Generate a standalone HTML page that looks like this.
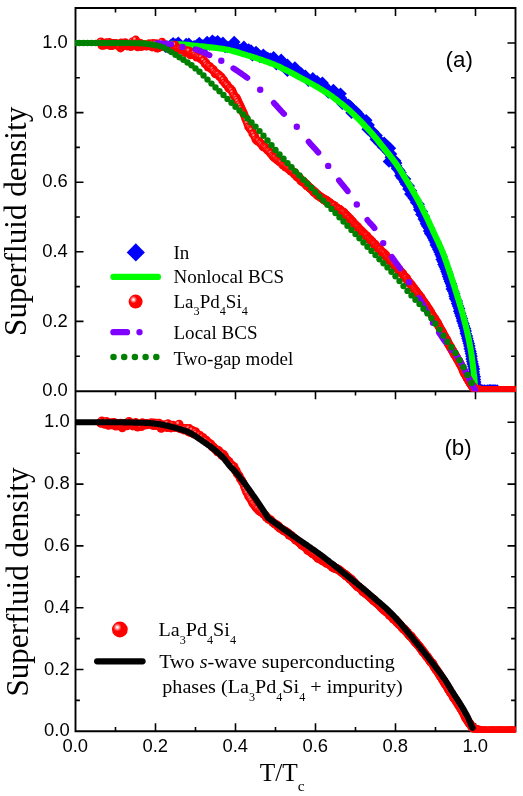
<!DOCTYPE html>
<html><head><meta charset="utf-8"><title>Superfluid density</title>
<style>html,body{margin:0;padding:0;background:#fff;}body{width:523px;height:796px;overflow:hidden;position:relative;font-family:"Liberation Sans",sans-serif;}</style></head>
<body>
<svg width="523" height="796" viewBox="0 0 523 796" style="position:absolute;left:0;top:0;display:block">
<defs>
<radialGradient id="rg" cx="0.345" cy="0.36" r="0.27">
<stop offset="0" stop-color="#ffffff"/><stop offset="0.25" stop-color="#ffd8d8"/>
<stop offset="0.7" stop-color="#ff4545"/><stop offset="1" stop-color="#ff0000"/>
</radialGradient>
<clipPath id="ca"><rect x="75.5" y="8" width="440" height="383.6"/></clipPath>
<clipPath id="cb"><rect x="75.5" y="391" width="440" height="341.2"/></clipPath>
<radialGradient id="rg2" cx="0.34" cy="0.35" r="0.23">
<stop offset="0" stop-color="#ffc4c4"/><stop offset="0.55" stop-color="#ff5a5a"/><stop offset="1" stop-color="#ff0000"/>
</radialGradient>
<circle id="rc" r="4.4" fill="url(#rg2)"/>
<circle id="rcb" r="4.4" fill="url(#rg2)"/>
<path id="bd" d="M0,-6.3 L6.3,0 L0,6.3 L-6.3,0Z" fill="#0000ff"/>
</defs>
<rect width="523" height="796" fill="#fff"/>
<g stroke="#000" stroke-width="1.9" fill="none" stroke-linecap="butt">
<path d="M75.5,7.05 V732.25 M515.5,7.05 V732.25 M74.55,8.0 H516.45 M74.55,391.2 H516.45 M74.55,731.3 H516.45"/>
</g>
<g stroke="#000" stroke-width="1.6" fill="none">
<path d="M115.5,8.0 v4.4 M115.5,391.2 v4.4 M115.5,731.3 v-4.4 M155.5,8.0 v8.0 M155.5,391.2 v8.0 M155.5,731.3 v-8.0 M195.5,8.0 v4.4 M195.5,391.2 v4.4 M195.5,731.3 v-4.4 M235.5,8.0 v8.0 M235.5,391.2 v8.0 M235.5,731.3 v-8.0 M275.5,8.0 v4.4 M275.5,391.2 v4.4 M275.5,731.3 v-4.4 M315.5,8.0 v8.0 M315.5,391.2 v8.0 M315.5,731.3 v-8.0 M355.5,8.0 v4.4 M355.5,391.2 v4.4 M355.5,731.3 v-4.4 M395.5,8.0 v8.0 M395.5,391.2 v8.0 M395.5,731.3 v-8.0 M435.5,8.0 v4.4 M435.5,391.2 v4.4 M435.5,731.3 v-4.4 M475.5,8.0 v8.0 M475.5,391.2 v8.0 M475.5,731.3 v-8.0 M75.5,356.2 h4.4 M515.5,356.2 h-4.4 M75.5,321.4 h8.0 M515.5,321.4 h-8.0 M75.5,286.6 h4.4 M515.5,286.6 h-4.4 M75.5,251.8 h8.0 M515.5,251.8 h-8.0 M75.5,217.0 h4.4 M515.5,217.0 h-4.4 M75.5,182.2 h8.0 M515.5,182.2 h-8.0 M75.5,147.4 h4.4 M515.5,147.4 h-4.4 M75.5,112.6 h8.0 M515.5,112.6 h-8.0 M75.5,77.8 h4.4 M515.5,77.8 h-4.4 M75.5,43.0 h8.0 M515.5,43.0 h-8.0 M75.5,700.4 h4.4 M515.5,700.4 h-4.4 M75.5,669.5 h8.0 M515.5,669.5 h-8.0 M75.5,638.6 h4.4 M515.5,638.6 h-4.4 M75.5,607.7 h8.0 M515.5,607.7 h-8.0 M75.5,576.8 h4.4 M515.5,576.8 h-4.4 M75.5,545.9 h8.0 M515.5,545.9 h-8.0 M75.5,515.0 h4.4 M515.5,515.0 h-4.4 M75.5,484.1 h8.0 M515.5,484.1 h-8.0 M75.5,453.2 h4.4 M515.5,453.2 h-4.4 M75.5,422.3 h8.0 M515.5,422.3 h-8.0"/>
</g>
<g clip-path="url(#ca)">
<use href="#bd" x="165.5" y="46.6"/>
<use href="#bd" x="168.2" y="47.4"/>
<use href="#bd" x="170.6" y="45.4"/>
<use href="#bd" x="173.1" y="43.3"/>
<use href="#bd" x="175.8" y="44.5"/>
<use href="#bd" x="178.3" y="42.7"/>
<use href="#bd" x="181.1" y="45.8"/>
<use href="#bd" x="183.8" y="49.4"/>
<use href="#bd" x="186.2" y="44.1"/>
<use href="#bd" x="188.8" y="43.7"/>
<use href="#bd" x="191.5" y="46.7"/>
<use href="#bd" x="194.1" y="46.3"/>
<use href="#bd" x="196.7" y="45.6"/>
<use href="#bd" x="199.3" y="43.0"/>
<use href="#bd" x="201.9" y="45.3"/>
<use href="#bd" x="204.4" y="47.2"/>
<use href="#bd" x="207.1" y="42.1"/>
<use href="#bd" x="209.7" y="44.4"/>
<use href="#bd" x="212.4" y="40.8"/>
<use href="#bd" x="215.0" y="42.5"/>
<use href="#bd" x="217.6" y="41.2"/>
<use href="#bd" x="220.1" y="45.3"/>
<use href="#bd" x="222.9" y="42.9"/>
<use href="#bd" x="225.1" y="46.9"/>
<use href="#bd" x="227.7" y="47.0"/>
<use href="#bd" x="230.4" y="46.7"/>
<use href="#bd" x="234.2" y="42.0"/>
<use href="#bd" x="235.7" y="47.0"/>
<use href="#bd" x="238.0" y="48.8"/>
<use href="#bd" x="240.4" y="49.8"/>
<use href="#bd" x="243.9" y="46.9"/>
<use href="#bd" x="245.8" y="49.9"/>
<use href="#bd" x="248.6" y="49.5"/>
<use href="#bd" x="251.0" y="50.6"/>
<use href="#bd" x="252.4" y="55.2"/>
<use href="#bd" x="256.0" y="52.0"/>
<use href="#bd" x="258.0" y="54.3"/>
<use href="#bd" x="259.9" y="57.0"/>
<use href="#bd" x="263.3" y="54.9"/>
<use href="#bd" x="265.5" y="56.7"/>
<use href="#bd" x="267.8" y="58.0"/>
<use href="#bd" x="270.2" y="58.8"/>
<use href="#bd" x="273.6" y="57.3"/>
<use href="#bd" x="275.0" y="60.8"/>
<use href="#bd" x="276.4" y="64.1"/>
<use href="#bd" x="281.2" y="59.9"/>
<use href="#bd" x="281.5" y="65.3"/>
<use href="#bd" x="284.5" y="65.1"/>
<use href="#bd" x="287.5" y="64.9"/>
<use href="#bd" x="287.4" y="70.8"/>
<use href="#bd" x="290.8" y="69.8"/>
<use href="#bd" x="294.9" y="67.6"/>
<use href="#bd" x="296.0" y="71.1"/>
<use href="#bd" x="297.8" y="73.2"/>
<use href="#bd" x="300.9" y="73.1"/>
<use href="#bd" x="302.3" y="75.8"/>
<use href="#bd" x="305.3" y="75.7"/>
<use href="#bd" x="306.9" y="78.3"/>
<use href="#bd" x="308.5" y="80.8"/>
<use href="#bd" x="312.8" y="78.4"/>
<use href="#bd" x="314.2" y="81.2"/>
<use href="#bd" x="317.1" y="81.3"/>
<use href="#bd" x="318.8" y="83.6"/>
<use href="#bd" x="322.4" y="82.8"/>
<use href="#bd" x="323.9" y="85.2"/>
<use href="#bd" x="325.7" y="87.3"/>
<use href="#bd" x="326.6" y="90.6"/>
<use href="#bd" x="328.4" y="92.5"/>
<use href="#bd" x="333.4" y="90.0"/>
<use href="#bd" x="334.9" y="92.4"/>
<use href="#bd" x="335.2" y="96.3"/>
<use href="#bd" x="340.5" y="93.7"/>
<use href="#bd" x="340.7" y="97.8"/>
<use href="#bd" x="342.2" y="100.0"/>
<use href="#bd" x="342.4" y="103.7"/>
<use href="#bd" x="345.1" y="104.5"/>
<use href="#bd" x="348.4" y="104.7"/>
<use href="#bd" x="350.4" y="106.4"/>
<use href="#bd" x="352.2" y="108.4"/>
<use href="#bd" x="351.6" y="112.7"/>
<use href="#bd" x="356.2" y="111.7"/>
<use href="#bd" x="357.8" y="113.8"/>
<use href="#bd" x="358.7" y="116.5"/>
<use href="#bd" x="361.2" y="117.8"/>
<use href="#bd" x="363.1" y="119.6"/>
<use href="#bd" x="366.2" y="120.2"/>
<use href="#bd" x="366.3" y="123.7"/>
<use href="#bd" x="368.6" y="125.1"/>
<use href="#bd" x="367.7" y="129.2"/>
<use href="#bd" x="370.2" y="130.6"/>
<use href="#bd" x="372.9" y="131.7"/>
<use href="#bd" x="373.4" y="134.6"/>
<use href="#bd" x="376.5" y="135.5"/>
<use href="#bd" x="375.8" y="139.2"/>
<use href="#bd" x="379.1" y="140.1"/>
<use href="#bd" x="379.6" y="142.9"/>
<use href="#bd" x="384.2" y="142.8"/>
<use href="#bd" x="383.0" y="146.8"/>
<use href="#bd" x="387.8" y="146.6"/>
<use href="#bd" x="389.9" y="148.3"/>
<use href="#bd" x="388.6" y="152.4"/>
<use href="#bd" x="391.0" y="154.0"/>
<use href="#bd" x="390.8" y="157.3"/>
<use href="#bd" x="389.0" y="161.5"/>
<use href="#bd" x="395.1" y="160.7"/>
<use href="#bd" x="396.1" y="163.1"/>
<use href="#bd" x="396.2" y="166.1"/>
<use href="#bd" x="397.1" y="168.6"/>
<use href="#bd" x="399.3" y="170.4"/>
<use href="#bd" x="400.5" y="172.7"/>
<use href="#bd" x="400.5" y="175.6"/>
<use href="#bd" x="401.9" y="177.8"/>
<use href="#bd" x="405.0" y="179.1"/>
<use href="#bd" x="405.0" y="182.0"/>
<use href="#bd" x="406.2" y="184.3"/>
<use href="#bd" x="408.7" y="185.9"/>
<use href="#bd" x="408.5" y="189.0"/>
<use href="#bd" x="410.9" y="190.7"/>
<use href="#bd" x="410.4" y="193.9"/>
<use href="#bd" x="412.4" y="195.8"/>
<use href="#bd" x="413.7" y="198.0"/>
<use href="#bd" x="415.4" y="200.1"/>
<use href="#bd" x="416.2" y="202.6"/>
<use href="#bd" x="418.6" y="204.3"/>
<use href="#bd" x="419.1" y="206.9"/>
<use href="#bd" x="419.3" y="209.7"/>
<use href="#bd" x="421.8" y="211.4"/>
<use href="#bd" x="421.4" y="214.5"/>
<use href="#bd" x="423.7" y="216.3"/>
<use href="#bd" x="423.8" y="219.1"/>
<use href="#bd" x="425.5" y="221.2"/>
<use href="#bd" x="426.0" y="223.8"/>
<use href="#bd" x="427.3" y="226.1"/>
<use href="#bd" x="429.0" y="228.2"/>
<use href="#bd" x="429.1" y="231.0"/>
<use href="#bd" x="430.2" y="233.4"/>
<use href="#bd" x="431.8" y="235.5"/>
<use href="#bd" x="433.0" y="237.8"/>
<use href="#bd" x="434.1" y="240.1"/>
<use href="#bd" x="435.5" y="242.4"/>
<use href="#bd" x="435.8" y="245.0"/>
<use href="#bd" x="437.4" y="247.2"/>
<use href="#bd" x="438.3" y="249.6"/>
<use href="#bd" x="439.5" y="251.9"/>
<use href="#bd" x="440.5" y="254.4"/>
<use href="#bd" x="441.6" y="256.7"/>
<use href="#bd" x="441.7" y="259.5"/>
<use href="#bd" x="443.0" y="261.8"/>
<use href="#bd" x="443.5" y="264.4"/>
<use href="#bd" x="444.6" y="266.7"/>
<use href="#bd" x="445.7" y="269.1"/>
<use href="#bd" x="446.5" y="271.6"/>
<use href="#bd" x="447.4" y="274.0"/>
<use href="#bd" x="448.1" y="276.5"/>
<use href="#bd" x="449.0" y="278.9"/>
<use href="#bd" x="449.9" y="281.4"/>
<use href="#bd" x="451.0" y="283.8"/>
<use href="#bd" x="451.7" y="286.3"/>
<use href="#bd" x="451.8" y="289.0"/>
<use href="#bd" x="453.3" y="291.2"/>
<use href="#bd" x="454.2" y="293.7"/>
<use href="#bd" x="454.6" y="296.3"/>
<use href="#bd" x="455.1" y="298.8"/>
<use href="#bd" x="456.7" y="301.1"/>
<use href="#bd" x="457.1" y="303.6"/>
<use href="#bd" x="458.0" y="306.1"/>
<use href="#bd" x="459.1" y="308.5"/>
<use href="#bd" x="459.2" y="311.2"/>
<use href="#bd" x="460.2" y="313.6"/>
<use href="#bd" x="460.9" y="316.1"/>
<use href="#bd" x="461.9" y="318.5"/>
<use href="#bd" x="462.3" y="321.1"/>
<use href="#bd" x="463.4" y="323.5"/>
<use href="#bd" x="464.0" y="326.0"/>
<use href="#bd" x="465.0" y="328.4"/>
<use href="#bd" x="465.7" y="330.9"/>
<use href="#bd" x="465.8" y="333.6"/>
<use href="#bd" x="466.9" y="336.0"/>
<use href="#bd" x="467.4" y="338.6"/>
<use href="#bd" x="468.1" y="341.1"/>
<use href="#bd" x="468.8" y="343.6"/>
<use href="#bd" x="469.4" y="346.1"/>
<use href="#bd" x="469.7" y="348.7"/>
<use href="#bd" x="470.5" y="351.2"/>
<use href="#bd" x="471.0" y="353.7"/>
<use href="#bd" x="471.5" y="356.3"/>
<use href="#bd" x="471.6" y="358.9"/>
<use href="#bd" x="472.2" y="361.4"/>
<use href="#bd" x="472.7" y="364.0"/>
<use href="#bd" x="473.4" y="366.5"/>
<use href="#bd" x="474.0" y="369.1"/>
<use href="#bd" x="473.8" y="371.7"/>
<use href="#bd" x="474.1" y="374.3"/>
<use href="#bd" x="474.8" y="376.8"/>
<use href="#bd" x="474.9" y="379.4"/>
<use href="#bd" x="475.2" y="382.0"/>
<use href="#bd" x="475.5" y="384.6"/>
<use href="#bd" x="475.8" y="387.2"/>
<use href="#bd" x="476.5" y="389.7"/>
<use href="#bd" x="478.0" y="390.7"/>
<use href="#bd" x="479.6" y="390.4"/>
<use href="#bd" x="481.2" y="390.6"/>
<use href="#bd" x="482.8" y="390.5"/>
<use href="#bd" x="484.4" y="390.6"/>
<use href="#bd" x="486.0" y="390.7"/>
<use href="#bd" x="487.6" y="390.6"/>
<use href="#bd" x="489.2" y="390.4"/>
<use href="#bd" x="490.8" y="390.3"/>
<use href="#bd" x="492.4" y="390.6"/>
<use href="#bd" x="494.0" y="390.4"/>
<use href="#bd" x="495.6" y="390.5"/>
<use href="#bd" x="497.2" y="390.6"/>
<path d="M75.5,43.0 L77.3,43.0 L79.1,43.0 L80.9,43.0 L82.7,43.0 L84.5,43.0 L86.4,43.0 L88.2,43.0 L90.0,43.0 L91.8,43.0 L93.6,43.0 L95.4,43.0 L97.2,43.0 L99.0,43.0 L100.8,43.0 L102.6,43.0 L104.4,43.0 L106.3,43.0 L108.1,43.0 L109.9,43.0 L111.7,43.0 L113.5,43.0 L115.3,43.0 L117.1,43.0 L118.9,43.0 L120.7,43.0 L122.5,43.0 L124.3,43.0 L126.2,43.0 L128.0,43.0 L129.8,43.0 L131.6,43.0 L133.4,43.0 L135.2,43.0 L137.0,43.0 L138.8,43.0 L140.6,43.0 L142.4,43.0 L144.2,43.1 L146.1,43.1 L147.9,43.1 L149.7,43.2 L151.5,43.2 L153.3,43.3 L155.1,43.3 L156.9,43.4 L158.7,43.4 L160.5,43.5 L162.3,43.5 L164.1,43.6 L166.0,43.7 L167.8,43.7 L169.6,43.8 L171.4,43.9 L173.2,43.9 L175.0,44.0 L176.8,44.1 L178.6,44.2 L180.4,44.3 L182.2,44.5 L184.0,44.6 L185.9,44.8 L187.7,44.9 L189.5,45.1 L191.3,45.3 L193.1,45.5 L194.9,45.7 L196.7,45.9 L198.5,46.1 L200.3,46.2 L202.1,46.4 L203.9,46.6 L205.8,46.8 L207.6,47.0 L209.4,47.2 L211.2,47.4 L213.0,47.6 L214.8,47.8 L216.6,48.0 L218.4,48.3 L220.2,48.5 L222.0,48.8 L223.8,49.1 L225.7,49.4 L227.5,49.7 L229.3,50.1 L231.1,50.6 L232.9,51.0 L234.7,51.5 L236.5,52.0 L238.3,52.5 L240.1,53.1 L241.9,53.7 L243.7,54.2 L245.6,54.8 L247.4,55.4 L249.2,55.9 L251.0,56.5 L252.8,57.0 L254.6,57.6 L256.4,58.2 L258.2,58.8 L260.0,59.4 L261.8,60.0 L263.6,60.6 L265.4,61.3 L267.3,61.9 L269.1,62.6 L270.9,63.3 L272.7,64.0 L274.5,64.7 L276.3,65.5 L278.1,66.3 L279.9,67.1 L281.7,68.0 L283.5,68.9 L285.3,69.8 L287.2,70.7 L289.0,71.6 L290.8,72.6 L292.6,73.5 L294.4,74.5 L296.2,75.5 L298.0,76.5 L299.8,77.4 L301.6,78.4 L303.4,79.3 L305.2,80.3 L307.1,81.3 L308.9,82.3 L310.7,83.3 L312.5,84.3 L314.3,85.3 L316.1,86.3 L317.9,87.4 L319.7,88.5 L321.5,89.6 L323.3,90.7 L325.1,91.9 L327.0,93.0 L328.8,94.3 L330.6,95.5 L332.4,96.8 L334.2,98.1 L336.0,99.5 L337.8,100.9 L339.6,102.3 L341.4,103.7 L343.2,105.2 L345.0,106.7 L346.9,108.2 L348.7,109.8 L350.5,111.4 L352.3,113.1 L354.1,114.8 L355.9,116.6 L357.7,118.4 L359.5,120.2 L361.3,122.0 L363.1,123.9 L364.9,125.9 L366.8,127.8 L368.6,129.8 L370.4,131.8 L372.2,133.8 L374.0,135.9 L375.8,138.0 L377.6,140.2 L379.4,142.5 L381.2,144.8 L383.0,147.0 L384.8,149.3 L386.7,151.6 L388.5,153.8 L390.3,156.1 L392.1,158.4 L393.9,160.8 L395.7,163.2 L397.5,165.8 L399.3,168.6 L401.1,171.4 L402.9,174.4 L404.7,177.4 L406.6,180.4 L408.4,183.4 L410.2,186.4 L412.0,189.5 L413.8,192.6 L415.6,195.8 L417.4,199.0 L419.2,202.4 L421.0,205.9 L422.8,209.5 L424.6,213.2 L426.5,216.9 L428.3,220.8 L430.1,224.6 L431.9,228.5 L433.7,232.4 L435.5,236.2 L435.8,236.9 L436.2,237.6 L436.5,238.3 L436.8,239.0 L437.2,239.7 L437.5,240.5 L437.9,241.2 L438.2,241.9 L438.5,242.6 L438.9,243.4 L439.2,244.1 L439.5,244.9 L439.9,245.6 L440.2,246.4 L440.5,247.2 L440.9,247.9 L441.2,248.7 L441.6,249.5 L441.9,250.3 L442.2,251.1 L442.6,251.9 L442.9,252.8 L443.2,253.6 L443.6,254.5 L443.9,255.3 L444.2,256.2 L444.6,257.1 L444.9,258.1 L445.2,259.0 L445.6,259.9 L445.9,260.9 L446.3,261.8 L446.6,262.8 L446.9,263.8 L447.3,264.8 L447.6,265.8 L447.9,266.8 L448.3,267.8 L448.6,268.8 L448.9,269.8 L449.3,270.8 L449.6,271.9 L450.0,272.9 L450.3,273.9 L450.6,275.0 L451.0,276.0 L451.3,277.0 L451.6,278.0 L452.0,279.1 L452.3,280.1 L452.6,281.1 L453.0,282.2 L453.3,283.2 L453.7,284.3 L454.0,285.3 L454.3,286.4 L454.7,287.4 L455.0,288.5 L455.3,289.6 L455.7,290.7 L456.0,291.8 L456.3,292.9 L456.7,294.0 L457.0,295.1 L457.3,296.2 L457.7,297.3 L458.0,298.4 L458.4,299.5 L458.7,300.6 L459.0,301.7 L459.4,302.9 L459.7,304.0 L460.0,305.1 L460.4,306.2 L460.7,307.3 L461.0,308.5 L461.4,309.6 L461.7,310.8 L462.1,311.9 L462.4,313.1 L462.7,314.3 L463.1,315.5 L463.4,316.8 L463.7,318.0 L464.1,319.3 L464.4,320.6 L464.7,321.9 L465.1,323.3 L465.4,324.6 L465.8,326.0 L466.1,327.4 L466.4,328.8 L466.8,330.2 L467.1,331.6 L467.4,333.1 L467.8,334.6 L468.1,336.1 L468.4,337.7 L468.8,339.3 L469.1,341.0 L469.4,342.7 L469.8,344.5 L470.1,346.3 L470.5,348.2 L470.8,350.2 L471.1,352.2 L471.5,354.5 L471.8,356.8 L472.1,359.3 L472.5,362.0 L472.8,364.7 L473.1,367.5 L473.5,370.4 L473.8,373.4 L474.2,376.6 L474.5,380.0 L474.8,383.5 L475.2,387.2 L475.5,391.0" fill="none" stroke="#00ff00" stroke-width="6.1" stroke-linecap="round" stroke-linejoin="round"/>
<use href="#rc" x="100.1" y="42.5"/>
<use href="#rc" x="101.0" y="41.8"/>
<use href="#rc" x="101.9" y="45.4"/>
<use href="#rc" x="102.8" y="45.1"/>
<use href="#rc" x="103.8" y="44.6"/>
<use href="#rc" x="104.7" y="45.1"/>
<use href="#rc" x="105.6" y="43.7"/>
<use href="#rc" x="106.5" y="42.7"/>
<use href="#rc" x="107.4" y="44.7"/>
<use href="#rc" x="108.4" y="43.5"/>
<use href="#rc" x="109.3" y="42.5"/>
<use href="#rc" x="110.2" y="45.7"/>
<use href="#rc" x="111.1" y="44.9"/>
<use href="#rc" x="112.1" y="45.6"/>
<use href="#rc" x="113.0" y="43.5"/>
<use href="#rc" x="113.9" y="44.0"/>
<use href="#rc" x="114.9" y="43.4"/>
<use href="#rc" x="115.8" y="43.6"/>
<use href="#rc" x="116.7" y="45.2"/>
<use href="#rc" x="117.7" y="43.8"/>
<use href="#rc" x="118.6" y="45.5"/>
<use href="#rc" x="119.5" y="45.4"/>
<use href="#rc" x="120.5" y="48.0"/>
<use href="#rc" x="121.4" y="42.8"/>
<use href="#rc" x="122.3" y="46.3"/>
<use href="#rc" x="123.3" y="44.8"/>
<use href="#rc" x="124.2" y="44.9"/>
<use href="#rc" x="125.2" y="42.7"/>
<use href="#rc" x="126.1" y="44.2"/>
<use href="#rc" x="127.1" y="46.0"/>
<use href="#rc" x="128.0" y="44.8"/>
<use href="#rc" x="129.0" y="45.0"/>
<use href="#rc" x="129.9" y="44.5"/>
<use href="#rc" x="130.9" y="46.6"/>
<use href="#rc" x="131.8" y="44.9"/>
<use href="#rc" x="132.8" y="41.6"/>
<use href="#rc" x="133.7" y="43.9"/>
<use href="#rc" x="134.7" y="42.0"/>
<use href="#rc" x="135.7" y="40.0"/>
<use href="#rc" x="136.6" y="44.1"/>
<use href="#rc" x="137.6" y="46.9"/>
<use href="#rc" x="138.5" y="45.0"/>
<use href="#rc" x="139.5" y="43.2"/>
<use href="#rc" x="140.5" y="43.5"/>
<use href="#rc" x="141.4" y="46.6"/>
<use href="#rc" x="142.4" y="45.2"/>
<use href="#rc" x="143.4" y="45.0"/>
<use href="#rc" x="144.3" y="44.9"/>
<use href="#rc" x="145.3" y="45.1"/>
<use href="#rc" x="146.3" y="46.2"/>
<use href="#rc" x="147.3" y="45.9"/>
<use href="#rc" x="148.2" y="45.4"/>
<use href="#rc" x="149.2" y="43.6"/>
<use href="#rc" x="150.2" y="46.0"/>
<use href="#rc" x="151.2" y="44.3"/>
<use href="#rc" x="152.2" y="47.0"/>
<use href="#rc" x="153.1" y="43.5"/>
<use href="#rc" x="154.1" y="45.3"/>
<use href="#rc" x="155.1" y="45.5"/>
<use href="#rc" x="156.1" y="43.6"/>
<use href="#rc" x="157.1" y="48.2"/>
<use href="#rc" x="158.1" y="47.9"/>
<use href="#rc" x="159.1" y="45.1"/>
<use href="#rc" x="160.0" y="47.0"/>
<use href="#rc" x="161.0" y="46.5"/>
<use href="#rc" x="162.0" y="42.2"/>
<use href="#rc" x="163.0" y="46.5"/>
<use href="#rc" x="164.0" y="46.1"/>
<use href="#rc" x="165.0" y="46.4"/>
<use href="#rc" x="166.0" y="44.8"/>
<use href="#rc" x="167.0" y="46.1"/>
<use href="#rc" x="168.0" y="46.4"/>
<use href="#rc" x="169.0" y="48.5"/>
<use href="#rc" x="170.0" y="47.4"/>
<use href="#rc" x="171.0" y="47.1"/>
<use href="#rc" x="172.0" y="49.5"/>
<use href="#rc" x="173.1" y="46.6"/>
<use href="#rc" x="174.1" y="47.0"/>
<use href="#rc" x="175.1" y="45.1"/>
<use href="#rc" x="176.1" y="50.2"/>
<use href="#rc" x="177.1" y="49.5"/>
<use href="#rc" x="178.1" y="49.7"/>
<use href="#rc" x="179.1" y="49.5"/>
<use href="#rc" x="180.2" y="48.9"/>
<use href="#rc" x="181.2" y="49.4"/>
<use href="#rc" x="182.2" y="49.0"/>
<use href="#rc" x="183.2" y="49.4"/>
<use href="#rc" x="184.2" y="50.1"/>
<use href="#rc" x="185.3" y="52.6"/>
<use href="#rc" x="186.3" y="51.7"/>
<use href="#rc" x="187.3" y="51.2"/>
<use href="#rc" x="188.4" y="50.9"/>
<use href="#rc" x="189.4" y="51.3"/>
<use href="#rc" x="190.4" y="54.9"/>
<use href="#rc" x="191.4" y="53.9"/>
<use href="#rc" x="192.5" y="53.9"/>
<use href="#rc" x="193.5" y="53.9"/>
<use href="#rc" x="194.6" y="53.5"/>
<use href="#rc" x="195.6" y="55.4"/>
<use href="#rc" x="196.6" y="57.1"/>
<use href="#rc" x="197.7" y="56.2"/>
<use href="#rc" x="198.7" y="57.1"/>
<use href="#rc" x="199.8" y="57.8"/>
<use href="#rc" x="200.8" y="59.0"/>
<use href="#rc" x="201.8" y="58.0"/>
<use href="#rc" x="202.9" y="60.4"/>
<use href="#rc" x="203.9" y="60.7"/>
<use href="#rc" x="205.0" y="63.6"/>
<use href="#rc" x="206.0" y="62.9"/>
<use href="#rc" x="207.0" y="65.2"/>
<use href="#rc" x="208.1" y="67.1"/>
<use href="#rc" x="209.1" y="66.3"/>
<use href="#rc" x="210.2" y="67.0"/>
<use href="#rc" x="211.2" y="68.7"/>
<use href="#rc" x="212.2" y="69.5"/>
<use href="#rc" x="213.3" y="69.6"/>
<use href="#rc" x="214.3" y="71.8"/>
<use href="#rc" x="215.4" y="73.9"/>
<use href="#rc" x="216.4" y="73.1"/>
<use href="#rc" x="217.4" y="74.2"/>
<use href="#rc" x="218.5" y="74.6"/>
<use href="#rc" x="219.5" y="76.6"/>
<use href="#rc" x="220.6" y="76.5"/>
<use href="#rc" x="221.6" y="77.7"/>
<use href="#rc" x="222.6" y="80.5"/>
<use href="#rc" x="223.7" y="80.2"/>
<use href="#rc" x="224.7" y="82.7"/>
<use href="#rc" x="225.8" y="84.2"/>
<use href="#rc" x="226.8" y="84.6"/>
<use href="#rc" x="227.8" y="86.1"/>
<use href="#rc" x="228.9" y="88.4"/>
<use href="#rc" x="229.9" y="88.4"/>
<use href="#rc" x="231.0" y="89.6"/>
<use href="#rc" x="232.0" y="90.6"/>
<use href="#rc" x="233.0" y="93.0"/>
<use href="#rc" x="234.1" y="95.6"/>
<use href="#rc" x="235.1" y="97.0"/>
<use href="#rc" x="236.2" y="97.7"/>
<use href="#rc" x="237.2" y="99.6"/>
<use href="#rc" x="238.2" y="101.9"/>
<use href="#rc" x="239.3" y="104.4"/>
<use href="#rc" x="240.3" y="106.3"/>
<use href="#rc" x="241.4" y="108.7"/>
<use href="#rc" x="242.4" y="110.9"/>
<use href="#rc" x="243.4" y="112.9"/>
<use href="#rc" x="244.5" y="115.5"/>
<use href="#rc" x="245.5" y="118.3"/>
<use href="#rc" x="246.6" y="120.7"/>
<use href="#rc" x="247.6" y="123.5"/>
<use href="#rc" x="248.6" y="126.7"/>
<use href="#rc" x="249.7" y="127.9"/>
<use href="#rc" x="250.7" y="129.5"/>
<use href="#rc" x="251.8" y="130.4"/>
<use href="#rc" x="252.8" y="133.7"/>
<use href="#rc" x="253.8" y="134.4"/>
<use href="#rc" x="254.9" y="136.6"/>
<use href="#rc" x="255.9" y="139.5"/>
<use href="#rc" x="257.0" y="140.7"/>
<use href="#rc" x="258.0" y="141.2"/>
<use href="#rc" x="259.0" y="141.3"/>
<use href="#rc" x="260.1" y="143.0"/>
<use href="#rc" x="261.1" y="143.6"/>
<use href="#rc" x="262.2" y="145.2"/>
<use href="#rc" x="263.2" y="147.0"/>
<use href="#rc" x="264.2" y="146.9"/>
<use href="#rc" x="265.3" y="147.4"/>
<use href="#rc" x="266.3" y="148.3"/>
<use href="#rc" x="267.4" y="149.9"/>
<use href="#rc" x="268.4" y="150.9"/>
<use href="#rc" x="269.4" y="151.5"/>
<use href="#rc" x="270.5" y="153.2"/>
<use href="#rc" x="271.5" y="153.6"/>
<use href="#rc" x="272.6" y="155.8"/>
<use href="#rc" x="273.6" y="156.8"/>
<use href="#rc" x="274.6" y="157.8"/>
<use href="#rc" x="275.7" y="158.0"/>
<use href="#rc" x="276.7" y="159.5"/>
<use href="#rc" x="277.7" y="160.2"/>
<use href="#rc" x="278.7" y="161.0"/>
<use href="#rc" x="279.7" y="161.9"/>
<use href="#rc" x="280.7" y="162.2"/>
<use href="#rc" x="281.7" y="163.0"/>
<use href="#rc" x="282.7" y="164.8"/>
<use href="#rc" x="283.6" y="165.1"/>
<use href="#rc" x="284.5" y="166.0"/>
<use href="#rc" x="285.5" y="167.1"/>
<use href="#rc" x="286.4" y="166.4"/>
<use href="#rc" x="287.3" y="167.6"/>
<use href="#rc" x="288.2" y="168.7"/>
<use href="#rc" x="289.0" y="169.5"/>
<use href="#rc" x="289.9" y="169.8"/>
<use href="#rc" x="290.8" y="171.2"/>
<use href="#rc" x="291.6" y="171.4"/>
<use href="#rc" x="292.4" y="171.4"/>
<use href="#rc" x="293.2" y="172.3"/>
<use href="#rc" x="294.1" y="173.8"/>
<use href="#rc" x="294.9" y="174.4"/>
<use href="#rc" x="295.6" y="173.9"/>
<use href="#rc" x="296.4" y="176.2"/>
<use href="#rc" x="297.2" y="176.6"/>
<use href="#rc" x="297.9" y="177.6"/>
<use href="#rc" x="298.7" y="177.5"/>
<use href="#rc" x="299.4" y="178.2"/>
<use href="#rc" x="300.2" y="178.5"/>
<use href="#rc" x="300.9" y="180.9"/>
<use href="#rc" x="301.6" y="180.3"/>
<use href="#rc" x="302.3" y="181.8"/>
<use href="#rc" x="303.0" y="181.4"/>
<use href="#rc" x="303.7" y="182.4"/>
<use href="#rc" x="304.3" y="182.1"/>
<use href="#rc" x="305.0" y="183.3"/>
<use href="#rc" x="305.7" y="184.6"/>
<use href="#rc" x="306.3" y="184.1"/>
<use href="#rc" x="306.9" y="185.8"/>
<use href="#rc" x="307.6" y="186.1"/>
<use href="#rc" x="308.2" y="186.0"/>
<use href="#rc" x="308.8" y="186.9"/>
<use href="#rc" x="309.4" y="187.4"/>
<use href="#rc" x="310.0" y="188.2"/>
<use href="#rc" x="310.6" y="188.5"/>
<use href="#rc" x="311.2" y="188.9"/>
<use href="#rc" x="311.8" y="189.7"/>
<use href="#rc" x="312.3" y="189.9"/>
<use href="#rc" x="312.9" y="190.3"/>
<use href="#rc" x="313.5" y="191.4"/>
<use href="#rc" x="314.0" y="192.3"/>
<use href="#rc" x="314.5" y="191.6"/>
<use href="#rc" x="315.1" y="192.8"/>
<use href="#rc" x="315.6" y="193.0"/>
<use href="#rc" x="316.1" y="193.2"/>
<use href="#rc" x="316.6" y="194.5"/>
<use href="#rc" x="317.2" y="194.3"/>
<use href="#rc" x="317.7" y="195.6"/>
<use href="#rc" x="318.2" y="195.0"/>
<use href="#rc" x="318.7" y="195.9"/>
<use href="#rc" x="319.2" y="196.0"/>
<use href="#rc" x="319.8" y="196.2"/>
<use href="#rc" x="320.3" y="197.2"/>
<use href="#rc" x="320.8" y="197.2"/>
<use href="#rc" x="321.3" y="197.9"/>
<use href="#rc" x="321.8" y="198.0"/>
<use href="#rc" x="322.4" y="197.8"/>
<use href="#rc" x="322.9" y="198.7"/>
<use href="#rc" x="323.4" y="199.1"/>
<use href="#rc" x="323.9" y="199.8"/>
<use href="#rc" x="324.4" y="199.3"/>
<use href="#rc" x="325.0" y="200.1"/>
<use href="#rc" x="325.5" y="199.7"/>
<use href="#rc" x="326.0" y="201.1"/>
<use href="#rc" x="326.5" y="200.7"/>
<use href="#rc" x="327.0" y="200.7"/>
<use href="#rc" x="327.6" y="201.8"/>
<use href="#rc" x="328.1" y="202.7"/>
<use href="#rc" x="328.6" y="201.9"/>
<use href="#rc" x="329.1" y="202.4"/>
<use href="#rc" x="329.6" y="202.9"/>
<use href="#rc" x="330.2" y="203.1"/>
<use href="#rc" x="330.7" y="204.2"/>
<use href="#rc" x="331.2" y="204.0"/>
<use href="#rc" x="331.7" y="204.4"/>
<use href="#rc" x="332.2" y="205.3"/>
<use href="#rc" x="332.8" y="205.0"/>
<use href="#rc" x="333.3" y="205.9"/>
<use href="#rc" x="333.8" y="205.6"/>
<use href="#rc" x="334.3" y="205.8"/>
<use href="#rc" x="334.8" y="205.9"/>
<use href="#rc" x="335.4" y="207.9"/>
<use href="#rc" x="335.9" y="207.3"/>
<use href="#rc" x="336.4" y="207.9"/>
<use href="#rc" x="336.9" y="208.1"/>
<use href="#rc" x="337.4" y="208.5"/>
<use href="#rc" x="338.0" y="208.8"/>
<use href="#rc" x="338.5" y="210.0"/>
<use href="#rc" x="339.0" y="209.1"/>
<use href="#rc" x="339.5" y="209.2"/>
<use href="#rc" x="340.0" y="209.9"/>
<use href="#rc" x="340.6" y="210.1"/>
<use href="#rc" x="341.1" y="211.4"/>
<use href="#rc" x="341.6" y="211.9"/>
<use href="#rc" x="342.1" y="211.5"/>
<use href="#rc" x="342.6" y="211.8"/>
<use href="#rc" x="343.2" y="212.7"/>
<use href="#rc" x="343.7" y="213.9"/>
<use href="#rc" x="344.2" y="212.5"/>
<use href="#rc" x="344.7" y="214.4"/>
<use href="#rc" x="345.2" y="214.2"/>
<use href="#rc" x="345.8" y="215.6"/>
<use href="#rc" x="346.3" y="215.2"/>
<use href="#rc" x="346.8" y="216.0"/>
<use href="#rc" x="347.3" y="216.0"/>
<use href="#rc" x="347.8" y="216.7"/>
<use href="#rc" x="348.4" y="218.3"/>
<use href="#rc" x="348.9" y="218.6"/>
<use href="#rc" x="349.4" y="218.5"/>
<use href="#rc" x="349.9" y="218.9"/>
<use href="#rc" x="350.4" y="219.0"/>
<use href="#rc" x="351.0" y="220.2"/>
<use href="#rc" x="351.5" y="220.9"/>
<use href="#rc" x="352.0" y="221.4"/>
<use href="#rc" x="352.5" y="221.9"/>
<use href="#rc" x="353.0" y="222.0"/>
<use href="#rc" x="353.6" y="223.0"/>
<use href="#rc" x="354.1" y="223.6"/>
<use href="#rc" x="354.6" y="224.7"/>
<use href="#rc" x="355.1" y="225.5"/>
<use href="#rc" x="355.6" y="225.2"/>
<use href="#rc" x="356.2" y="225.5"/>
<use href="#rc" x="356.7" y="226.4"/>
<use href="#rc" x="357.2" y="226.7"/>
<use href="#rc" x="357.7" y="227.2"/>
<use href="#rc" x="358.2" y="228.0"/>
<use href="#rc" x="358.8" y="228.1"/>
<use href="#rc" x="359.3" y="229.4"/>
<use href="#rc" x="359.8" y="229.6"/>
<use href="#rc" x="360.3" y="230.3"/>
<use href="#rc" x="360.8" y="230.7"/>
<use href="#rc" x="361.4" y="231.0"/>
<use href="#rc" x="361.9" y="231.4"/>
<use href="#rc" x="362.4" y="232.3"/>
<use href="#rc" x="362.9" y="232.6"/>
<use href="#rc" x="363.4" y="233.5"/>
<use href="#rc" x="364.0" y="233.9"/>
<use href="#rc" x="364.5" y="233.9"/>
<use href="#rc" x="365.0" y="235.0"/>
<use href="#rc" x="365.5" y="234.9"/>
<use href="#rc" x="366.0" y="235.7"/>
<use href="#rc" x="366.6" y="236.4"/>
<use href="#rc" x="367.1" y="236.1"/>
<use href="#rc" x="367.6" y="237.6"/>
<use href="#rc" x="368.1" y="238.1"/>
<use href="#rc" x="368.6" y="238.5"/>
<use href="#rc" x="369.2" y="238.9"/>
<use href="#rc" x="369.7" y="239.4"/>
<use href="#rc" x="370.2" y="239.7"/>
<use href="#rc" x="370.7" y="240.5"/>
<use href="#rc" x="371.2" y="240.9"/>
<use href="#rc" x="371.8" y="241.7"/>
<use href="#rc" x="372.3" y="241.7"/>
<use href="#rc" x="372.8" y="242.8"/>
<use href="#rc" x="373.3" y="243.3"/>
<use href="#rc" x="373.8" y="243.7"/>
<use href="#rc" x="374.4" y="244.1"/>
<use href="#rc" x="374.9" y="245.0"/>
<use href="#rc" x="375.4" y="244.6"/>
<use href="#rc" x="375.9" y="246.0"/>
<use href="#rc" x="376.4" y="246.4"/>
<use href="#rc" x="377.0" y="247.0"/>
<use href="#rc" x="377.5" y="247.5"/>
<use href="#rc" x="378.0" y="247.6"/>
<use href="#rc" x="378.5" y="248.3"/>
<use href="#rc" x="379.0" y="249.2"/>
<use href="#rc" x="379.6" y="249.7"/>
<use href="#rc" x="380.1" y="250.1"/>
<use href="#rc" x="380.6" y="249.9"/>
<use href="#rc" x="381.1" y="251.3"/>
<use href="#rc" x="381.6" y="252.1"/>
<use href="#rc" x="382.2" y="252.6"/>
<use href="#rc" x="382.7" y="252.8"/>
<use href="#rc" x="383.2" y="252.6"/>
<use href="#rc" x="383.7" y="254.2"/>
<use href="#rc" x="384.2" y="254.3"/>
<use href="#rc" x="384.8" y="253.8"/>
<use href="#rc" x="385.3" y="255.6"/>
<use href="#rc" x="385.8" y="255.3"/>
<use href="#rc" x="386.3" y="256.0"/>
<use href="#rc" x="386.8" y="256.8"/>
<use href="#rc" x="387.4" y="258.1"/>
<use href="#rc" x="387.9" y="258.0"/>
<use href="#rc" x="388.4" y="258.8"/>
<use href="#rc" x="388.9" y="259.9"/>
<use href="#rc" x="389.4" y="260.4"/>
<use href="#rc" x="390.0" y="260.3"/>
<use href="#rc" x="390.5" y="260.8"/>
<use href="#rc" x="391.0" y="260.9"/>
<use href="#rc" x="391.5" y="261.7"/>
<use href="#rc" x="392.0" y="262.7"/>
<use href="#rc" x="392.6" y="263.2"/>
<use href="#rc" x="393.1" y="263.7"/>
<use href="#rc" x="393.6" y="264.6"/>
<use href="#rc" x="394.1" y="264.4"/>
<use href="#rc" x="394.6" y="265.3"/>
<use href="#rc" x="395.2" y="266.2"/>
<use href="#rc" x="395.7" y="266.7"/>
<use href="#rc" x="396.2" y="267.4"/>
<use href="#rc" x="396.7" y="267.7"/>
<use href="#rc" x="397.2" y="268.0"/>
<use href="#rc" x="397.8" y="268.9"/>
<use href="#rc" x="398.3" y="268.9"/>
<use href="#rc" x="398.8" y="269.3"/>
<use href="#rc" x="399.3" y="270.7"/>
<use href="#rc" x="399.8" y="271.1"/>
<use href="#rc" x="400.4" y="271.8"/>
<use href="#rc" x="400.9" y="271.6"/>
<use href="#rc" x="401.4" y="272.7"/>
<use href="#rc" x="401.9" y="273.2"/>
<use href="#rc" x="402.4" y="273.7"/>
<use href="#rc" x="403.0" y="273.8"/>
<use href="#rc" x="403.5" y="275.1"/>
<use href="#rc" x="404.0" y="276.2"/>
<use href="#rc" x="404.5" y="276.7"/>
<use href="#rc" x="405.0" y="276.9"/>
<use href="#rc" x="405.6" y="277.7"/>
<use href="#rc" x="406.1" y="278.7"/>
<use href="#rc" x="406.6" y="278.0"/>
<use href="#rc" x="407.1" y="279.6"/>
<use href="#rc" x="407.6" y="280.5"/>
<use href="#rc" x="408.2" y="281.2"/>
<use href="#rc" x="408.7" y="282.2"/>
<use href="#rc" x="409.2" y="282.7"/>
<use href="#rc" x="409.7" y="283.0"/>
<use href="#rc" x="410.2" y="283.7"/>
<use href="#rc" x="410.8" y="284.5"/>
<use href="#rc" x="411.3" y="284.7"/>
<use href="#rc" x="411.8" y="285.6"/>
<use href="#rc" x="412.3" y="286.6"/>
<use href="#rc" x="412.8" y="287.7"/>
<use href="#rc" x="413.4" y="287.6"/>
<use href="#rc" x="413.9" y="288.3"/>
<use href="#rc" x="414.4" y="289.1"/>
<use href="#rc" x="414.9" y="290.2"/>
<use href="#rc" x="415.4" y="290.4"/>
<use href="#rc" x="416.0" y="291.6"/>
<use href="#rc" x="416.5" y="291.5"/>
<use href="#rc" x="417.0" y="292.5"/>
<use href="#rc" x="417.5" y="293.2"/>
<use href="#rc" x="418.0" y="294.2"/>
<use href="#rc" x="418.6" y="295.0"/>
<use href="#rc" x="419.1" y="294.8"/>
<use href="#rc" x="419.6" y="295.8"/>
<use href="#rc" x="420.1" y="296.9"/>
<use href="#rc" x="420.6" y="297.3"/>
<use href="#rc" x="421.2" y="297.7"/>
<use href="#rc" x="421.7" y="299.4"/>
<use href="#rc" x="422.2" y="299.9"/>
<use href="#rc" x="422.7" y="300.7"/>
<use href="#rc" x="423.2" y="301.1"/>
<use href="#rc" x="423.8" y="302.3"/>
<use href="#rc" x="424.3" y="302.6"/>
<use href="#rc" x="424.8" y="303.9"/>
<use href="#rc" x="425.3" y="303.9"/>
<use href="#rc" x="425.8" y="304.7"/>
<use href="#rc" x="426.4" y="305.8"/>
<use href="#rc" x="426.9" y="306.3"/>
<use href="#rc" x="427.4" y="307.6"/>
<use href="#rc" x="427.9" y="308.2"/>
<use href="#rc" x="428.4" y="308.6"/>
<use href="#rc" x="429.0" y="309.7"/>
<use href="#rc" x="429.5" y="310.4"/>
<use href="#rc" x="430.0" y="311.6"/>
<use href="#rc" x="430.5" y="311.9"/>
<use href="#rc" x="431.0" y="312.7"/>
<use href="#rc" x="431.6" y="314.1"/>
<use href="#rc" x="432.1" y="315.3"/>
<use href="#rc" x="432.6" y="316.0"/>
<use href="#rc" x="433.1" y="316.2"/>
<use href="#rc" x="433.6" y="317.1"/>
<use href="#rc" x="434.2" y="318.4"/>
<use href="#rc" x="434.7" y="318.7"/>
<use href="#rc" x="435.2" y="319.3"/>
<use href="#rc" x="435.7" y="320.5"/>
<use href="#rc" x="436.2" y="321.5"/>
<use href="#rc" x="436.8" y="322.0"/>
<use href="#rc" x="437.3" y="322.7"/>
<use href="#rc" x="437.8" y="323.6"/>
<use href="#rc" x="438.3" y="325.2"/>
<use href="#rc" x="438.8" y="325.7"/>
<use href="#rc" x="439.4" y="326.8"/>
<use href="#rc" x="439.9" y="327.9"/>
<use href="#rc" x="440.4" y="328.9"/>
<use href="#rc" x="440.9" y="329.6"/>
<use href="#rc" x="441.4" y="330.8"/>
<use href="#rc" x="442.0" y="331.3"/>
<use href="#rc" x="442.5" y="332.4"/>
<use href="#rc" x="443.0" y="333.1"/>
<use href="#rc" x="443.5" y="334.8"/>
<use href="#rc" x="444.0" y="335.4"/>
<use href="#rc" x="444.6" y="336.1"/>
<use href="#rc" x="445.1" y="337.2"/>
<use href="#rc" x="445.6" y="338.1"/>
<use href="#rc" x="446.1" y="339.4"/>
<use href="#rc" x="446.6" y="339.6"/>
<use href="#rc" x="447.2" y="340.7"/>
<use href="#rc" x="447.7" y="341.9"/>
<use href="#rc" x="448.2" y="343.7"/>
<use href="#rc" x="448.7" y="344.1"/>
<use href="#rc" x="449.2" y="344.7"/>
<use href="#rc" x="449.8" y="345.9"/>
<use href="#rc" x="450.3" y="347.2"/>
<use href="#rc" x="450.8" y="347.4"/>
<use href="#rc" x="451.3" y="348.3"/>
<use href="#rc" x="451.8" y="349.7"/>
<use href="#rc" x="452.4" y="350.4"/>
<use href="#rc" x="452.9" y="351.3"/>
<use href="#rc" x="453.4" y="351.9"/>
<use href="#rc" x="453.9" y="353.5"/>
<use href="#rc" x="454.4" y="354.3"/>
<use href="#rc" x="455.0" y="354.9"/>
<use href="#rc" x="455.5" y="355.9"/>
<use href="#rc" x="456.0" y="356.0"/>
<use href="#rc" x="456.5" y="357.7"/>
<use href="#rc" x="457.0" y="358.4"/>
<use href="#rc" x="457.6" y="359.5"/>
<use href="#rc" x="458.1" y="360.5"/>
<use href="#rc" x="458.6" y="361.1"/>
<use href="#rc" x="459.1" y="361.7"/>
<use href="#rc" x="459.6" y="363.3"/>
<use href="#rc" x="460.2" y="363.9"/>
<use href="#rc" x="460.7" y="365.0"/>
<use href="#rc" x="461.2" y="366.0"/>
<use href="#rc" x="461.7" y="367.1"/>
<use href="#rc" x="462.2" y="367.6"/>
<use href="#rc" x="462.8" y="369.7"/>
<use href="#rc" x="463.3" y="370.6"/>
<use href="#rc" x="463.8" y="371.9"/>
<use href="#rc" x="464.3" y="373.2"/>
<use href="#rc" x="464.8" y="373.8"/>
<use href="#rc" x="465.4" y="374.3"/>
<use href="#rc" x="465.9" y="375.6"/>
<use href="#rc" x="466.4" y="376.5"/>
<use href="#rc" x="466.9" y="377.6"/>
<use href="#rc" x="467.4" y="378.7"/>
<use href="#rc" x="468.0" y="379.0"/>
<use href="#rc" x="468.5" y="380.5"/>
<use href="#rc" x="469.0" y="380.8"/>
<use href="#rc" x="469.5" y="382.1"/>
<use href="#rc" x="470.0" y="382.8"/>
<use href="#rc" x="470.6" y="383.6"/>
<use href="#rc" x="471.1" y="384.5"/>
<use href="#rc" x="471.6" y="385.3"/>
<use href="#rc" x="472.1" y="386.0"/>
<use href="#rc" x="472.6" y="386.5"/>
<use href="#rc" x="473.2" y="387.4"/>
<use href="#rc" x="473.7" y="388.3"/>
<use href="#rc" x="474.2" y="388.7"/>
<use href="#rc" x="474.7" y="388.8"/>
<use href="#rc" x="475.2" y="388.9"/>
<use href="#rc" x="475.8" y="388.8"/>
<use href="#rc" x="476.3" y="389.6"/>
<use href="#rc" x="476.8" y="389.4"/>
<use href="#rc" x="477.3" y="389.5"/>
<use href="#rc" x="477.8" y="389.6"/>
<use href="#rc" x="478.4" y="389.9"/>
<use href="#rc" x="478.9" y="389.9"/>
<use href="#rc" x="479.4" y="390.1"/>
<use href="#rc" x="479.9" y="390.0"/>
<use href="#rc" x="480.4" y="390.3"/>
<use href="#rc" x="481.0" y="390.7"/>
<use href="#rc" x="481.5" y="390.5"/>
<use href="#rc" x="482.0" y="390.5"/>
<use href="#rc" x="482.5" y="390.7"/>
<use href="#rc" x="483.0" y="390.7"/>
<use href="#rc" x="483.6" y="390.5"/>
<use href="#rc" x="484.1" y="390.6"/>
<use href="#rc" x="484.6" y="390.7"/>
<use href="#rc" x="485.1" y="390.7"/>
<use href="#rc" x="485.6" y="390.7"/>
<use href="#rc" x="486.2" y="390.8"/>
<use href="#rc" x="486.7" y="390.6"/>
<use href="#rc" x="487.2" y="390.7"/>
<use href="#rc" x="487.7" y="390.6"/>
<use href="#rc" x="488.2" y="390.8"/>
<use href="#rc" x="488.8" y="390.5"/>
<use href="#rc" x="489.3" y="390.6"/>
<use href="#rc" x="489.8" y="390.6"/>
<use href="#rc" x="490.3" y="390.7"/>
<use href="#rc" x="490.8" y="390.7"/>
<use href="#rc" x="491.4" y="390.8"/>
<use href="#rc" x="491.9" y="390.5"/>
<use href="#rc" x="492.4" y="390.7"/>
<use href="#rc" x="492.9" y="390.6"/>
<use href="#rc" x="493.4" y="390.6"/>
<use href="#rc" x="494.0" y="390.7"/>
<use href="#rc" x="494.5" y="390.6"/>
<use href="#rc" x="495.0" y="390.4"/>
<use href="#rc" x="495.5" y="390.6"/>
<use href="#rc" x="496.0" y="390.5"/>
<use href="#rc" x="496.6" y="390.6"/>
<use href="#rc" x="497.1" y="390.7"/>
<use href="#rc" x="497.6" y="390.7"/>
<use href="#rc" x="498.1" y="390.8"/>
<use href="#rc" x="498.6" y="390.6"/>
<use href="#rc" x="499.2" y="390.5"/>
<use href="#rc" x="499.7" y="390.6"/>
<use href="#rc" x="500.2" y="390.6"/>
<use href="#rc" x="500.7" y="390.5"/>
<use href="#rc" x="501.2" y="390.7"/>
<use href="#rc" x="501.8" y="390.6"/>
<use href="#rc" x="502.3" y="390.5"/>
<use href="#rc" x="502.8" y="390.7"/>
<use href="#rc" x="503.3" y="390.6"/>
<use href="#rc" x="503.8" y="390.7"/>
<use href="#rc" x="504.4" y="390.7"/>
<use href="#rc" x="504.9" y="390.7"/>
<use href="#rc" x="505.4" y="390.7"/>
<use href="#rc" x="505.9" y="390.8"/>
<use href="#rc" x="506.4" y="390.7"/>
<use href="#rc" x="507.0" y="390.7"/>
<use href="#rc" x="507.5" y="390.7"/>
<use href="#rc" x="508.0" y="390.5"/>
<use href="#rc" x="508.5" y="390.6"/>
<use href="#rc" x="509.0" y="390.6"/>
<use href="#rc" x="509.6" y="390.7"/>
<use href="#rc" x="510.1" y="390.5"/>
<use href="#rc" x="510.6" y="390.8"/>
<use href="#rc" x="511.1" y="390.7"/>
<use href="#rc" x="511.6" y="390.5"/>
<use href="#rc" x="512.2" y="390.5"/>
<use href="#rc" x="512.7" y="390.6"/>
<use href="#rc" x="513.2" y="390.6"/>
<use href="#rc" x="513.7" y="390.6"/>
<use href="#rc" x="514.2" y="390.7"/>
<use href="#rc" x="514.8" y="390.6"/>
<use href="#rc" x="515.3" y="390.7"/>
<use href="#rc" x="515.8" y="390.6"/>
<use href="#rc" x="516.3" y="390.6"/>
<use href="#rc" x="516.8" y="390.7"/>
<use href="#rc" x="517.4" y="390.9"/>
<use href="#rc" x="517.9" y="390.6"/>
<use href="#rc" x="518.4" y="390.6"/>
<use href="#rc" x="518.9" y="390.6"/>
<use href="#rc" x="519.4" y="390.7"/>
<use href="#rc" x="520.0" y="390.5"/>
<use href="#rc" x="520.5" y="390.6"/>
<use href="#rc" x="521.0" y="390.6"/>
<use href="#rc" x="521.5" y="390.6"/>
<circle cx="182.4" cy="47.0" r="3.2" fill="#8000ff"/>
<circle cx="221.3" cy="60.8" r="3.2" fill="#8000ff"/>
<circle cx="260.2" cy="89.7" r="3.2" fill="#8000ff"/>
<circle cx="296.8" cy="126.8" r="3.2" fill="#8000ff"/>
<circle cx="328.2" cy="165.9" r="3.2" fill="#8000ff"/>
<circle cx="356.8" cy="204.5" r="3.2" fill="#8000ff"/>
<circle cx="383.2" cy="243.1" r="3.2" fill="#8000ff"/>
<circle cx="409.0" cy="282.3" r="3.2" fill="#8000ff"/>
<circle cx="433.0" cy="322.7" r="3.2" fill="#8000ff"/>
<circle cx="452.0" cy="350.1" r="3.2" fill="#8000ff"/>
<path d="M157.0,43.2 L158.3,43.3 L159.5,43.3 L160.8,43.4 L162.1,43.4 L163.4,43.5 L164.6,43.6 L165.9,43.7 L167.2,43.8 L168.5,43.9 L169.7,44.1 L171.0,44.2 M195.5,49.4 L196.8,49.7 L198.0,50.1 L199.3,50.6 L200.6,51.1 L201.9,51.7 L203.1,52.2 L204.4,52.8 L205.7,53.4 L207.0,54.1 L208.2,54.7 L209.5,55.2 M233.4,68.3 L234.7,69.1 L235.9,69.9 L237.2,70.7 L238.5,71.6 L239.7,72.4 L241.0,73.3 L242.2,74.2 L243.5,75.1 L244.8,76.0 L246.0,77.0 L247.3,77.9 M273.9,102.9 L274.8,103.9 L275.7,104.9 L276.7,105.9 L277.6,106.9 L278.5,107.9 L279.4,108.9 L280.3,109.9 L281.2,111.0 L282.2,112.0 L283.1,113.0 L284.0,113.9 M308.7,141.8 L309.6,142.8 L310.4,143.8 L311.3,144.8 L312.2,145.7 L313.1,146.7 L313.9,147.7 L314.8,148.6 L315.7,149.6 L316.6,150.6 L317.4,151.6 L318.3,152.6 M339.0,180.4 L339.8,181.4 L340.6,182.4 L341.4,183.4 L342.2,184.3 L343.0,185.3 L343.7,186.2 L344.5,187.2 L345.3,188.2 L346.1,189.1 L346.9,190.1 L347.7,191.2 M367.4,220.0 L368.0,220.8 L368.7,221.5 L369.3,222.3 L370.0,223.0 L370.6,223.7 L371.3,224.4 L371.9,225.1 L372.6,225.8 L373.2,226.6 L373.9,227.4 L374.5,228.2 M391.9,257.0 L392.7,258.1 L393.4,259.2 L394.2,260.2 L394.9,261.3 L395.7,262.3 L396.4,263.3 L397.2,264.3 L397.9,265.3 L398.7,266.4 L399.4,267.4 L400.2,268.5 M419.0,297.9 L419.7,299.1 L420.5,300.3 L421.2,301.6 L421.9,302.9 L422.6,304.1 L423.4,305.4 L424.1,306.7 L424.8,308.0 L425.5,309.3 L426.3,310.7 L427.0,312.0 M439.0,332.6 L439.6,333.5 L440.2,334.4 L440.8,335.3 L441.4,336.2 L442.0,337.1 L442.5,337.9 L443.1,338.8 L443.7,339.7 L444.3,340.5 L444.9,341.3 L445.5,342.2 M456.3,355.3 L458.0,357.7 L459.8,360.3 L461.5,363.4 L463.3,366.8 L465.0,370.4 L466.8,374.0 L468.5,377.4 L470.3,380.8 L472.0,384.2 L473.8,387.6 L475.5,391.0" fill="none" stroke="#8000ff" stroke-width="6.0" stroke-linecap="round" stroke-linejoin="round"/>
<circle cx="75.5" cy="43.0" r="3.2" fill="#008000"/>
<circle cx="79.5" cy="43.0" r="3.2" fill="#008000"/>
<circle cx="83.5" cy="43.0" r="3.2" fill="#008000"/>
<circle cx="87.5" cy="43.0" r="3.2" fill="#008000"/>
<circle cx="91.5" cy="43.0" r="3.2" fill="#008000"/>
<circle cx="95.5" cy="43.0" r="3.2" fill="#008000"/>
<circle cx="99.5" cy="43.0" r="3.2" fill="#008000"/>
<circle cx="103.5" cy="43.0" r="3.2" fill="#008000"/>
<circle cx="107.5" cy="43.0" r="3.2" fill="#008000"/>
<circle cx="111.5" cy="43.0" r="3.2" fill="#008000"/>
<circle cx="115.5" cy="43.0" r="3.2" fill="#008000"/>
<circle cx="119.5" cy="43.0" r="3.2" fill="#008000"/>
<circle cx="123.5" cy="43.0" r="3.2" fill="#008000"/>
<circle cx="127.5" cy="43.0" r="3.2" fill="#008000"/>
<circle cx="131.5" cy="43.1" r="3.2" fill="#008000"/>
<circle cx="135.5" cy="43.2" r="3.2" fill="#008000"/>
<circle cx="139.5" cy="43.3" r="3.2" fill="#008000"/>
<circle cx="143.5" cy="43.5" r="3.2" fill="#008000"/>
<circle cx="147.5" cy="43.9" r="3.2" fill="#008000"/>
<circle cx="151.5" cy="44.5" r="3.2" fill="#008000"/>
<circle cx="155.5" cy="45.2" r="3.2" fill="#008000"/>
<circle cx="159.5" cy="46.1" r="3.2" fill="#008000"/>
<circle cx="163.5" cy="47.5" r="3.2" fill="#008000"/>
<circle cx="167.5" cy="49.6" r="3.2" fill="#008000"/>
<circle cx="171.5" cy="52.1" r="3.2" fill="#008000"/>
<circle cx="175.5" cy="54.8" r="3.2" fill="#008000"/>
<circle cx="179.5" cy="57.3" r="3.2" fill="#008000"/>
<circle cx="183.5" cy="59.8" r="3.2" fill="#008000"/>
<circle cx="187.5" cy="62.5" r="3.2" fill="#008000"/>
<circle cx="191.5" cy="65.3" r="3.2" fill="#008000"/>
<circle cx="195.5" cy="68.4" r="3.2" fill="#008000"/>
<circle cx="199.5" cy="71.7" r="3.2" fill="#008000"/>
<circle cx="203.5" cy="75.5" r="3.2" fill="#008000"/>
<circle cx="207.5" cy="79.6" r="3.2" fill="#008000"/>
<circle cx="211.5" cy="83.6" r="3.2" fill="#008000"/>
<circle cx="215.5" cy="87.5" r="3.2" fill="#008000"/>
<circle cx="219.5" cy="91.2" r="3.2" fill="#008000"/>
<circle cx="223.5" cy="95.0" r="3.2" fill="#008000"/>
<circle cx="227.5" cy="98.9" r="3.2" fill="#008000"/>
<circle cx="231.5" cy="102.8" r="3.2" fill="#008000"/>
<circle cx="235.5" cy="106.7" r="3.2" fill="#008000"/>
<circle cx="239.5" cy="110.6" r="3.2" fill="#008000"/>
<circle cx="243.5" cy="114.5" r="3.2" fill="#008000"/>
<circle cx="247.5" cy="118.4" r="3.2" fill="#008000"/>
<circle cx="251.5" cy="122.4" r="3.2" fill="#008000"/>
<circle cx="255.5" cy="126.6" r="3.2" fill="#008000"/>
<circle cx="259.5" cy="131.1" r="3.2" fill="#008000"/>
<circle cx="263.5" cy="135.7" r="3.2" fill="#008000"/>
<circle cx="267.5" cy="140.5" r="3.2" fill="#008000"/>
<circle cx="271.5" cy="145.3" r="3.2" fill="#008000"/>
<circle cx="275.5" cy="150.0" r="3.2" fill="#008000"/>
<circle cx="279.5" cy="154.5" r="3.2" fill="#008000"/>
<circle cx="283.5" cy="158.8" r="3.2" fill="#008000"/>
<circle cx="287.5" cy="163.1" r="3.2" fill="#008000"/>
<circle cx="291.5" cy="167.2" r="3.2" fill="#008000"/>
<circle cx="295.5" cy="171.4" r="3.2" fill="#008000"/>
<circle cx="299.5" cy="175.5" r="3.2" fill="#008000"/>
<circle cx="303.5" cy="179.7" r="3.2" fill="#008000"/>
<circle cx="307.5" cy="183.8" r="3.2" fill="#008000"/>
<circle cx="311.5" cy="188.0" r="3.2" fill="#008000"/>
<circle cx="315.5" cy="192.2" r="3.2" fill="#008000"/>
<circle cx="319.5" cy="196.4" r="3.2" fill="#008000"/>
<circle cx="323.5" cy="200.6" r="3.2" fill="#008000"/>
<circle cx="327.5" cy="204.7" r="3.2" fill="#008000"/>
<circle cx="331.5" cy="208.9" r="3.2" fill="#008000"/>
<circle cx="335.5" cy="213.1" r="3.2" fill="#008000"/>
<circle cx="339.5" cy="217.3" r="3.2" fill="#008000"/>
<circle cx="343.5" cy="221.5" r="3.2" fill="#008000"/>
<circle cx="347.5" cy="225.7" r="3.2" fill="#008000"/>
<circle cx="351.5" cy="229.9" r="3.2" fill="#008000"/>
<circle cx="355.5" cy="234.1" r="3.2" fill="#008000"/>
<circle cx="359.5" cy="238.3" r="3.2" fill="#008000"/>
<circle cx="363.5" cy="242.5" r="3.2" fill="#008000"/>
<circle cx="367.5" cy="246.7" r="3.2" fill="#008000"/>
<circle cx="371.5" cy="250.9" r="3.2" fill="#008000"/>
<circle cx="375.5" cy="255.1" r="3.2" fill="#008000"/>
<circle cx="379.5" cy="259.2" r="3.2" fill="#008000"/>
<circle cx="383.5" cy="263.3" r="3.2" fill="#008000"/>
<circle cx="387.5" cy="267.4" r="3.2" fill="#008000"/>
<circle cx="391.5" cy="271.7" r="3.2" fill="#008000"/>
<circle cx="395.5" cy="276.2" r="3.2" fill="#008000"/>
<circle cx="399.5" cy="281.1" r="3.2" fill="#008000"/>
<circle cx="403.5" cy="286.1" r="3.2" fill="#008000"/>
<circle cx="407.5" cy="290.9" r="3.2" fill="#008000"/>
<circle cx="411.5" cy="295.4" r="3.2" fill="#008000"/>
<circle cx="415.5" cy="299.7" r="3.2" fill="#008000"/>
<circle cx="419.5" cy="304.1" r="3.2" fill="#008000"/>
<circle cx="423.5" cy="308.7" r="3.2" fill="#008000"/>
<circle cx="427.5" cy="313.4" r="3.2" fill="#008000"/>
<circle cx="431.5" cy="318.3" r="3.2" fill="#008000"/>
<circle cx="435.5" cy="323.7" r="3.2" fill="#008000"/>
<circle cx="439.5" cy="329.6" r="3.2" fill="#008000"/>
<circle cx="443.5" cy="335.8" r="3.2" fill="#008000"/>
<circle cx="447.5" cy="341.8" r="3.2" fill="#008000"/>
<circle cx="451.5" cy="347.2" r="3.2" fill="#008000"/>
<circle cx="455.5" cy="353.0" r="3.2" fill="#008000"/>
<circle cx="459.5" cy="360.2" r="3.2" fill="#008000"/>
<circle cx="463.5" cy="367.3" r="3.2" fill="#008000"/>
<circle cx="467.5" cy="374.9" r="3.2" fill="#008000"/>
<circle cx="471.5" cy="382.9" r="3.2" fill="#008000"/>
</g>
<g clip-path="url(#cb)">
<use href="#rcb" x="100.1" y="422.6"/>
<use href="#rcb" x="101.0" y="423.4"/>
<use href="#rcb" x="101.9" y="420.9"/>
<use href="#rcb" x="102.8" y="421.9"/>
<use href="#rcb" x="103.8" y="423.5"/>
<use href="#rcb" x="104.7" y="424.3"/>
<use href="#rcb" x="105.6" y="423.8"/>
<use href="#rcb" x="106.5" y="421.4"/>
<use href="#rcb" x="107.4" y="423.4"/>
<use href="#rcb" x="108.4" y="425.3"/>
<use href="#rcb" x="109.3" y="424.9"/>
<use href="#rcb" x="110.2" y="423.9"/>
<use href="#rcb" x="111.1" y="422.7"/>
<use href="#rcb" x="112.1" y="425.0"/>
<use href="#rcb" x="113.0" y="423.2"/>
<use href="#rcb" x="113.9" y="422.3"/>
<use href="#rcb" x="114.9" y="422.8"/>
<use href="#rcb" x="115.8" y="426.2"/>
<use href="#rcb" x="116.7" y="424.4"/>
<use href="#rcb" x="117.7" y="425.8"/>
<use href="#rcb" x="118.6" y="423.3"/>
<use href="#rcb" x="119.5" y="425.4"/>
<use href="#rcb" x="120.5" y="423.1"/>
<use href="#rcb" x="121.4" y="423.8"/>
<use href="#rcb" x="122.3" y="427.8"/>
<use href="#rcb" x="123.3" y="425.2"/>
<use href="#rcb" x="124.2" y="423.3"/>
<use href="#rcb" x="125.2" y="423.9"/>
<use href="#rcb" x="126.1" y="424.5"/>
<use href="#rcb" x="127.1" y="425.8"/>
<use href="#rcb" x="128.0" y="423.3"/>
<use href="#rcb" x="129.0" y="421.4"/>
<use href="#rcb" x="129.9" y="423.6"/>
<use href="#rcb" x="130.9" y="424.0"/>
<use href="#rcb" x="131.8" y="424.2"/>
<use href="#rcb" x="132.8" y="426.0"/>
<use href="#rcb" x="133.7" y="424.5"/>
<use href="#rcb" x="134.7" y="425.2"/>
<use href="#rcb" x="135.7" y="422.4"/>
<use href="#rcb" x="136.6" y="425.3"/>
<use href="#rcb" x="137.6" y="427.1"/>
<use href="#rcb" x="138.5" y="425.2"/>
<use href="#rcb" x="139.5" y="424.4"/>
<use href="#rcb" x="140.5" y="424.2"/>
<use href="#rcb" x="141.4" y="426.7"/>
<use href="#rcb" x="142.4" y="422.6"/>
<use href="#rcb" x="143.4" y="423.9"/>
<use href="#rcb" x="144.3" y="424.7"/>
<use href="#rcb" x="145.3" y="425.2"/>
<use href="#rcb" x="146.3" y="423.5"/>
<use href="#rcb" x="147.3" y="424.6"/>
<use href="#rcb" x="148.2" y="423.8"/>
<use href="#rcb" x="149.2" y="424.4"/>
<use href="#rcb" x="150.2" y="424.1"/>
<use href="#rcb" x="151.2" y="422.6"/>
<use href="#rcb" x="152.2" y="424.3"/>
<use href="#rcb" x="153.1" y="425.7"/>
<use href="#rcb" x="154.1" y="423.0"/>
<use href="#rcb" x="155.1" y="424.2"/>
<use href="#rcb" x="156.1" y="425.6"/>
<use href="#rcb" x="157.1" y="423.1"/>
<use href="#rcb" x="158.1" y="425.0"/>
<use href="#rcb" x="159.1" y="423.2"/>
<use href="#rcb" x="160.0" y="426.5"/>
<use href="#rcb" x="161.0" y="428.3"/>
<use href="#rcb" x="162.0" y="428.0"/>
<use href="#rcb" x="163.0" y="424.7"/>
<use href="#rcb" x="164.0" y="426.2"/>
<use href="#rcb" x="165.0" y="425.4"/>
<use href="#rcb" x="166.0" y="425.5"/>
<use href="#rcb" x="167.0" y="427.7"/>
<use href="#rcb" x="168.0" y="423.6"/>
<use href="#rcb" x="169.0" y="427.2"/>
<use href="#rcb" x="170.0" y="425.7"/>
<use href="#rcb" x="171.0" y="428.0"/>
<use href="#rcb" x="172.0" y="426.3"/>
<use href="#rcb" x="173.1" y="425.2"/>
<use href="#rcb" x="174.1" y="426.8"/>
<use href="#rcb" x="175.1" y="427.6"/>
<use href="#rcb" x="176.1" y="426.7"/>
<use href="#rcb" x="177.1" y="427.6"/>
<use href="#rcb" x="178.1" y="426.3"/>
<use href="#rcb" x="179.1" y="424.1"/>
<use href="#rcb" x="180.2" y="428.8"/>
<use href="#rcb" x="181.2" y="428.7"/>
<use href="#rcb" x="182.2" y="428.2"/>
<use href="#rcb" x="183.2" y="428.4"/>
<use href="#rcb" x="184.2" y="430.1"/>
<use href="#rcb" x="185.3" y="428.3"/>
<use href="#rcb" x="186.3" y="428.3"/>
<use href="#rcb" x="187.3" y="429.4"/>
<use href="#rcb" x="188.4" y="431.8"/>
<use href="#rcb" x="189.4" y="428.5"/>
<use href="#rcb" x="190.4" y="432.6"/>
<use href="#rcb" x="191.4" y="430.5"/>
<use href="#rcb" x="192.5" y="430.4"/>
<use href="#rcb" x="193.5" y="434.0"/>
<use href="#rcb" x="194.6" y="432.7"/>
<use href="#rcb" x="195.6" y="431.7"/>
<use href="#rcb" x="196.6" y="433.5"/>
<use href="#rcb" x="197.7" y="435.6"/>
<use href="#rcb" x="198.7" y="436.5"/>
<use href="#rcb" x="199.8" y="435.2"/>
<use href="#rcb" x="200.8" y="436.9"/>
<use href="#rcb" x="201.8" y="438.0"/>
<use href="#rcb" x="202.9" y="437.3"/>
<use href="#rcb" x="203.9" y="439.2"/>
<use href="#rcb" x="205.0" y="439.7"/>
<use href="#rcb" x="206.0" y="440.1"/>
<use href="#rcb" x="207.0" y="441.0"/>
<use href="#rcb" x="208.1" y="442.5"/>
<use href="#rcb" x="209.1" y="443.3"/>
<use href="#rcb" x="210.2" y="443.6"/>
<use href="#rcb" x="211.2" y="444.6"/>
<use href="#rcb" x="212.2" y="446.8"/>
<use href="#rcb" x="213.3" y="446.8"/>
<use href="#rcb" x="214.3" y="448.2"/>
<use href="#rcb" x="215.4" y="449.3"/>
<use href="#rcb" x="216.4" y="449.7"/>
<use href="#rcb" x="217.4" y="451.8"/>
<use href="#rcb" x="218.5" y="450.4"/>
<use href="#rcb" x="219.5" y="452.5"/>
<use href="#rcb" x="220.6" y="452.6"/>
<use href="#rcb" x="221.6" y="455.1"/>
<use href="#rcb" x="222.6" y="456.0"/>
<use href="#rcb" x="223.7" y="454.5"/>
<use href="#rcb" x="224.7" y="456.3"/>
<use href="#rcb" x="225.8" y="458.5"/>
<use href="#rcb" x="226.8" y="459.7"/>
<use href="#rcb" x="227.8" y="460.8"/>
<use href="#rcb" x="228.9" y="461.4"/>
<use href="#rcb" x="229.9" y="463.0"/>
<use href="#rcb" x="231.0" y="464.4"/>
<use href="#rcb" x="232.0" y="465.3"/>
<use href="#rcb" x="233.0" y="467.4"/>
<use href="#rcb" x="234.1" y="466.7"/>
<use href="#rcb" x="235.1" y="470.1"/>
<use href="#rcb" x="236.2" y="470.7"/>
<use href="#rcb" x="237.2" y="473.7"/>
<use href="#rcb" x="238.2" y="474.7"/>
<use href="#rcb" x="239.3" y="476.1"/>
<use href="#rcb" x="240.3" y="478.8"/>
<use href="#rcb" x="241.4" y="479.9"/>
<use href="#rcb" x="242.4" y="481.9"/>
<use href="#rcb" x="243.4" y="483.5"/>
<use href="#rcb" x="244.5" y="486.7"/>
<use href="#rcb" x="245.5" y="489.3"/>
<use href="#rcb" x="246.6" y="492.0"/>
<use href="#rcb" x="247.6" y="493.5"/>
<use href="#rcb" x="248.6" y="496.2"/>
<use href="#rcb" x="249.7" y="497.4"/>
<use href="#rcb" x="250.7" y="499.0"/>
<use href="#rcb" x="251.8" y="501.1"/>
<use href="#rcb" x="252.8" y="503.3"/>
<use href="#rcb" x="253.8" y="504.2"/>
<use href="#rcb" x="254.9" y="506.0"/>
<use href="#rcb" x="255.9" y="507.4"/>
<use href="#rcb" x="257.0" y="508.7"/>
<use href="#rcb" x="258.0" y="509.1"/>
<use href="#rcb" x="259.0" y="511.0"/>
<use href="#rcb" x="260.1" y="511.0"/>
<use href="#rcb" x="261.1" y="512.2"/>
<use href="#rcb" x="262.2" y="512.3"/>
<use href="#rcb" x="263.2" y="513.8"/>
<use href="#rcb" x="264.2" y="514.7"/>
<use href="#rcb" x="265.3" y="515.2"/>
<use href="#rcb" x="266.3" y="517.4"/>
<use href="#rcb" x="267.4" y="517.5"/>
<use href="#rcb" x="268.4" y="519.1"/>
<use href="#rcb" x="269.4" y="519.7"/>
<use href="#rcb" x="270.5" y="519.7"/>
<use href="#rcb" x="271.5" y="520.8"/>
<use href="#rcb" x="272.6" y="522.1"/>
<use href="#rcb" x="273.6" y="522.9"/>
<use href="#rcb" x="274.6" y="523.8"/>
<use href="#rcb" x="275.7" y="524.5"/>
<use href="#rcb" x="276.7" y="524.6"/>
<use href="#rcb" x="277.7" y="526.3"/>
<use href="#rcb" x="278.7" y="526.1"/>
<use href="#rcb" x="279.7" y="528.2"/>
<use href="#rcb" x="280.7" y="528.4"/>
<use href="#rcb" x="281.7" y="529.1"/>
<use href="#rcb" x="282.7" y="530.0"/>
<use href="#rcb" x="283.6" y="530.9"/>
<use href="#rcb" x="284.5" y="530.7"/>
<use href="#rcb" x="285.5" y="531.2"/>
<use href="#rcb" x="286.4" y="532.1"/>
<use href="#rcb" x="287.3" y="532.3"/>
<use href="#rcb" x="288.2" y="533.4"/>
<use href="#rcb" x="289.0" y="535.2"/>
<use href="#rcb" x="289.9" y="534.5"/>
<use href="#rcb" x="290.8" y="536.0"/>
<use href="#rcb" x="291.6" y="535.6"/>
<use href="#rcb" x="292.4" y="537.0"/>
<use href="#rcb" x="293.2" y="537.3"/>
<use href="#rcb" x="294.1" y="538.1"/>
<use href="#rcb" x="294.9" y="539.0"/>
<use href="#rcb" x="295.6" y="540.2"/>
<use href="#rcb" x="296.4" y="540.1"/>
<use href="#rcb" x="297.2" y="540.7"/>
<use href="#rcb" x="297.9" y="540.8"/>
<use href="#rcb" x="298.7" y="542.2"/>
<use href="#rcb" x="299.4" y="542.4"/>
<use href="#rcb" x="300.2" y="543.5"/>
<use href="#rcb" x="300.9" y="543.7"/>
<use href="#rcb" x="301.6" y="545.1"/>
<use href="#rcb" x="302.3" y="543.9"/>
<use href="#rcb" x="303.0" y="545.3"/>
<use href="#rcb" x="303.7" y="546.4"/>
<use href="#rcb" x="304.3" y="546.4"/>
<use href="#rcb" x="305.0" y="546.7"/>
<use href="#rcb" x="305.7" y="547.5"/>
<use href="#rcb" x="306.3" y="547.5"/>
<use href="#rcb" x="306.9" y="548.7"/>
<use href="#rcb" x="307.6" y="550.4"/>
<use href="#rcb" x="308.2" y="550.3"/>
<use href="#rcb" x="308.8" y="549.7"/>
<use href="#rcb" x="309.4" y="550.3"/>
<use href="#rcb" x="310.0" y="551.1"/>
<use href="#rcb" x="310.6" y="552.2"/>
<use href="#rcb" x="311.2" y="551.8"/>
<use href="#rcb" x="311.8" y="552.4"/>
<use href="#rcb" x="312.3" y="553.6"/>
<use href="#rcb" x="312.9" y="554.0"/>
<use href="#rcb" x="313.5" y="553.9"/>
<use href="#rcb" x="314.0" y="554.0"/>
<use href="#rcb" x="314.5" y="554.2"/>
<use href="#rcb" x="315.1" y="555.0"/>
<use href="#rcb" x="315.6" y="554.7"/>
<use href="#rcb" x="316.1" y="556.5"/>
<use href="#rcb" x="316.6" y="556.2"/>
<use href="#rcb" x="317.2" y="557.1"/>
<use href="#rcb" x="317.7" y="558.1"/>
<use href="#rcb" x="318.2" y="558.1"/>
<use href="#rcb" x="318.7" y="557.4"/>
<use href="#rcb" x="319.2" y="558.7"/>
<use href="#rcb" x="319.8" y="559.1"/>
<use href="#rcb" x="320.3" y="558.6"/>
<use href="#rcb" x="320.8" y="558.8"/>
<use href="#rcb" x="321.3" y="559.5"/>
<use href="#rcb" x="321.8" y="559.2"/>
<use href="#rcb" x="322.4" y="560.9"/>
<use href="#rcb" x="322.9" y="559.4"/>
<use href="#rcb" x="323.4" y="560.4"/>
<use href="#rcb" x="323.9" y="561.1"/>
<use href="#rcb" x="324.4" y="561.4"/>
<use href="#rcb" x="325.0" y="561.9"/>
<use href="#rcb" x="325.5" y="562.2"/>
<use href="#rcb" x="326.0" y="562.3"/>
<use href="#rcb" x="326.5" y="563.3"/>
<use href="#rcb" x="327.0" y="562.1"/>
<use href="#rcb" x="327.6" y="563.4"/>
<use href="#rcb" x="328.1" y="563.3"/>
<use href="#rcb" x="328.6" y="564.0"/>
<use href="#rcb" x="329.1" y="564.4"/>
<use href="#rcb" x="329.6" y="564.2"/>
<use href="#rcb" x="330.2" y="564.6"/>
<use href="#rcb" x="330.7" y="565.6"/>
<use href="#rcb" x="331.2" y="565.7"/>
<use href="#rcb" x="331.7" y="565.6"/>
<use href="#rcb" x="332.2" y="567.1"/>
<use href="#rcb" x="332.8" y="567.5"/>
<use href="#rcb" x="333.3" y="566.1"/>
<use href="#rcb" x="333.8" y="567.2"/>
<use href="#rcb" x="334.3" y="568.5"/>
<use href="#rcb" x="334.8" y="568.0"/>
<use href="#rcb" x="335.4" y="568.1"/>
<use href="#rcb" x="335.9" y="568.2"/>
<use href="#rcb" x="336.4" y="568.3"/>
<use href="#rcb" x="336.9" y="568.8"/>
<use href="#rcb" x="337.4" y="569.0"/>
<use href="#rcb" x="338.0" y="569.9"/>
<use href="#rcb" x="338.5" y="569.7"/>
<use href="#rcb" x="339.0" y="570.0"/>
<use href="#rcb" x="339.5" y="570.0"/>
<use href="#rcb" x="340.0" y="570.8"/>
<use href="#rcb" x="340.6" y="570.8"/>
<use href="#rcb" x="341.1" y="571.5"/>
<use href="#rcb" x="341.6" y="572.4"/>
<use href="#rcb" x="342.1" y="572.5"/>
<use href="#rcb" x="342.6" y="572.9"/>
<use href="#rcb" x="343.2" y="573.2"/>
<use href="#rcb" x="343.7" y="573.5"/>
<use href="#rcb" x="344.2" y="573.8"/>
<use href="#rcb" x="344.7" y="574.2"/>
<use href="#rcb" x="345.2" y="575.1"/>
<use href="#rcb" x="345.8" y="574.7"/>
<use href="#rcb" x="346.3" y="576.2"/>
<use href="#rcb" x="346.8" y="576.1"/>
<use href="#rcb" x="347.3" y="576.2"/>
<use href="#rcb" x="347.8" y="576.7"/>
<use href="#rcb" x="348.4" y="577.1"/>
<use href="#rcb" x="348.9" y="577.9"/>
<use href="#rcb" x="349.4" y="578.0"/>
<use href="#rcb" x="349.9" y="579.3"/>
<use href="#rcb" x="350.4" y="578.9"/>
<use href="#rcb" x="351.0" y="578.8"/>
<use href="#rcb" x="351.5" y="579.9"/>
<use href="#rcb" x="352.0" y="579.8"/>
<use href="#rcb" x="352.5" y="581.2"/>
<use href="#rcb" x="353.0" y="582.2"/>
<use href="#rcb" x="353.6" y="582.5"/>
<use href="#rcb" x="354.1" y="582.1"/>
<use href="#rcb" x="354.6" y="582.8"/>
<use href="#rcb" x="355.1" y="584.4"/>
<use href="#rcb" x="355.6" y="584.3"/>
<use href="#rcb" x="356.2" y="584.6"/>
<use href="#rcb" x="356.7" y="585.6"/>
<use href="#rcb" x="357.2" y="586.7"/>
<use href="#rcb" x="357.7" y="586.7"/>
<use href="#rcb" x="358.2" y="586.7"/>
<use href="#rcb" x="358.8" y="587.2"/>
<use href="#rcb" x="359.3" y="587.8"/>
<use href="#rcb" x="359.8" y="587.8"/>
<use href="#rcb" x="360.3" y="588.1"/>
<use href="#rcb" x="360.8" y="589.0"/>
<use href="#rcb" x="361.4" y="589.1"/>
<use href="#rcb" x="361.9" y="589.9"/>
<use href="#rcb" x="362.4" y="590.5"/>
<use href="#rcb" x="362.9" y="591.9"/>
<use href="#rcb" x="363.4" y="591.0"/>
<use href="#rcb" x="364.0" y="591.8"/>
<use href="#rcb" x="364.5" y="592.2"/>
<use href="#rcb" x="365.0" y="592.9"/>
<use href="#rcb" x="365.5" y="593.7"/>
<use href="#rcb" x="366.0" y="593.5"/>
<use href="#rcb" x="366.6" y="593.8"/>
<use href="#rcb" x="367.1" y="593.9"/>
<use href="#rcb" x="367.6" y="594.6"/>
<use href="#rcb" x="368.1" y="595.7"/>
<use href="#rcb" x="368.6" y="596.0"/>
<use href="#rcb" x="369.2" y="596.0"/>
<use href="#rcb" x="369.7" y="596.7"/>
<use href="#rcb" x="370.2" y="597.3"/>
<use href="#rcb" x="370.7" y="598.0"/>
<use href="#rcb" x="371.2" y="598.0"/>
<use href="#rcb" x="371.8" y="598.6"/>
<use href="#rcb" x="372.3" y="598.4"/>
<use href="#rcb" x="372.8" y="599.1"/>
<use href="#rcb" x="373.3" y="600.7"/>
<use href="#rcb" x="373.8" y="599.6"/>
<use href="#rcb" x="374.4" y="600.8"/>
<use href="#rcb" x="374.9" y="601.5"/>
<use href="#rcb" x="375.4" y="601.8"/>
<use href="#rcb" x="375.9" y="602.0"/>
<use href="#rcb" x="376.4" y="602.8"/>
<use href="#rcb" x="377.0" y="603.3"/>
<use href="#rcb" x="377.5" y="603.7"/>
<use href="#rcb" x="378.0" y="603.5"/>
<use href="#rcb" x="378.5" y="604.6"/>
<use href="#rcb" x="379.0" y="604.8"/>
<use href="#rcb" x="379.6" y="605.4"/>
<use href="#rcb" x="380.1" y="606.2"/>
<use href="#rcb" x="380.6" y="606.8"/>
<use href="#rcb" x="381.1" y="607.4"/>
<use href="#rcb" x="381.6" y="607.3"/>
<use href="#rcb" x="382.2" y="608.4"/>
<use href="#rcb" x="382.7" y="609.0"/>
<use href="#rcb" x="383.2" y="609.4"/>
<use href="#rcb" x="383.7" y="610.0"/>
<use href="#rcb" x="384.2" y="609.9"/>
<use href="#rcb" x="384.8" y="610.3"/>
<use href="#rcb" x="385.3" y="611.2"/>
<use href="#rcb" x="385.8" y="610.8"/>
<use href="#rcb" x="386.3" y="612.0"/>
<use href="#rcb" x="386.8" y="612.1"/>
<use href="#rcb" x="387.4" y="612.7"/>
<use href="#rcb" x="387.9" y="612.6"/>
<use href="#rcb" x="388.4" y="613.4"/>
<use href="#rcb" x="388.9" y="614.3"/>
<use href="#rcb" x="389.4" y="615.1"/>
<use href="#rcb" x="390.0" y="615.7"/>
<use href="#rcb" x="390.5" y="615.7"/>
<use href="#rcb" x="391.0" y="616.2"/>
<use href="#rcb" x="391.5" y="616.4"/>
<use href="#rcb" x="392.0" y="617.4"/>
<use href="#rcb" x="392.6" y="617.6"/>
<use href="#rcb" x="393.1" y="618.5"/>
<use href="#rcb" x="393.6" y="619.4"/>
<use href="#rcb" x="394.1" y="619.2"/>
<use href="#rcb" x="394.6" y="619.1"/>
<use href="#rcb" x="395.2" y="619.9"/>
<use href="#rcb" x="395.7" y="620.1"/>
<use href="#rcb" x="396.2" y="620.7"/>
<use href="#rcb" x="396.7" y="622.2"/>
<use href="#rcb" x="397.2" y="622.3"/>
<use href="#rcb" x="397.8" y="622.1"/>
<use href="#rcb" x="398.3" y="623.5"/>
<use href="#rcb" x="398.8" y="624.3"/>
<use href="#rcb" x="399.3" y="624.1"/>
<use href="#rcb" x="399.8" y="624.5"/>
<use href="#rcb" x="400.4" y="625.2"/>
<use href="#rcb" x="400.9" y="626.0"/>
<use href="#rcb" x="401.4" y="626.6"/>
<use href="#rcb" x="401.9" y="627.4"/>
<use href="#rcb" x="402.4" y="627.9"/>
<use href="#rcb" x="403.0" y="628.5"/>
<use href="#rcb" x="403.5" y="629.1"/>
<use href="#rcb" x="404.0" y="629.3"/>
<use href="#rcb" x="404.5" y="629.0"/>
<use href="#rcb" x="405.0" y="630.1"/>
<use href="#rcb" x="405.6" y="630.9"/>
<use href="#rcb" x="406.1" y="631.2"/>
<use href="#rcb" x="406.6" y="632.2"/>
<use href="#rcb" x="407.1" y="632.3"/>
<use href="#rcb" x="407.6" y="632.7"/>
<use href="#rcb" x="408.2" y="634.1"/>
<use href="#rcb" x="408.7" y="634.4"/>
<use href="#rcb" x="409.2" y="634.8"/>
<use href="#rcb" x="409.7" y="635.7"/>
<use href="#rcb" x="410.2" y="636.3"/>
<use href="#rcb" x="410.8" y="636.6"/>
<use href="#rcb" x="411.3" y="636.2"/>
<use href="#rcb" x="411.8" y="637.5"/>
<use href="#rcb" x="412.3" y="638.1"/>
<use href="#rcb" x="412.8" y="638.6"/>
<use href="#rcb" x="413.4" y="639.6"/>
<use href="#rcb" x="413.9" y="640.6"/>
<use href="#rcb" x="414.4" y="640.6"/>
<use href="#rcb" x="414.9" y="641.0"/>
<use href="#rcb" x="415.4" y="642.7"/>
<use href="#rcb" x="416.0" y="642.4"/>
<use href="#rcb" x="416.5" y="642.8"/>
<use href="#rcb" x="417.0" y="643.9"/>
<use href="#rcb" x="417.5" y="644.6"/>
<use href="#rcb" x="418.0" y="644.9"/>
<use href="#rcb" x="418.6" y="646.0"/>
<use href="#rcb" x="419.1" y="646.2"/>
<use href="#rcb" x="419.6" y="646.7"/>
<use href="#rcb" x="420.1" y="647.7"/>
<use href="#rcb" x="420.6" y="648.6"/>
<use href="#rcb" x="421.2" y="648.8"/>
<use href="#rcb" x="421.7" y="649.7"/>
<use href="#rcb" x="422.2" y="650.2"/>
<use href="#rcb" x="422.7" y="651.9"/>
<use href="#rcb" x="423.2" y="651.3"/>
<use href="#rcb" x="423.8" y="652.7"/>
<use href="#rcb" x="424.3" y="652.9"/>
<use href="#rcb" x="424.8" y="653.6"/>
<use href="#rcb" x="425.3" y="654.5"/>
<use href="#rcb" x="425.8" y="655.3"/>
<use href="#rcb" x="426.4" y="656.1"/>
<use href="#rcb" x="426.9" y="656.4"/>
<use href="#rcb" x="427.4" y="656.8"/>
<use href="#rcb" x="427.9" y="657.5"/>
<use href="#rcb" x="428.4" y="658.6"/>
<use href="#rcb" x="429.0" y="659.3"/>
<use href="#rcb" x="429.5" y="660.3"/>
<use href="#rcb" x="430.0" y="660.6"/>
<use href="#rcb" x="430.5" y="661.6"/>
<use href="#rcb" x="431.0" y="662.5"/>
<use href="#rcb" x="431.6" y="662.7"/>
<use href="#rcb" x="432.1" y="662.9"/>
<use href="#rcb" x="432.6" y="663.7"/>
<use href="#rcb" x="433.1" y="664.4"/>
<use href="#rcb" x="433.6" y="666.1"/>
<use href="#rcb" x="434.2" y="666.1"/>
<use href="#rcb" x="434.7" y="667.5"/>
<use href="#rcb" x="435.2" y="668.1"/>
<use href="#rcb" x="435.7" y="669.3"/>
<use href="#rcb" x="436.2" y="669.8"/>
<use href="#rcb" x="436.8" y="670.2"/>
<use href="#rcb" x="437.3" y="671.0"/>
<use href="#rcb" x="437.8" y="671.9"/>
<use href="#rcb" x="438.3" y="672.8"/>
<use href="#rcb" x="438.8" y="673.4"/>
<use href="#rcb" x="439.4" y="674.3"/>
<use href="#rcb" x="439.9" y="675.7"/>
<use href="#rcb" x="440.4" y="675.5"/>
<use href="#rcb" x="440.9" y="676.9"/>
<use href="#rcb" x="441.4" y="677.4"/>
<use href="#rcb" x="442.0" y="678.6"/>
<use href="#rcb" x="442.5" y="679.6"/>
<use href="#rcb" x="443.0" y="680.2"/>
<use href="#rcb" x="443.5" y="681.3"/>
<use href="#rcb" x="444.0" y="681.4"/>
<use href="#rcb" x="444.6" y="683.1"/>
<use href="#rcb" x="445.1" y="683.4"/>
<use href="#rcb" x="445.6" y="684.6"/>
<use href="#rcb" x="446.1" y="685.3"/>
<use href="#rcb" x="446.6" y="685.3"/>
<use href="#rcb" x="447.2" y="686.7"/>
<use href="#rcb" x="447.7" y="687.8"/>
<use href="#rcb" x="448.2" y="689.1"/>
<use href="#rcb" x="448.7" y="689.5"/>
<use href="#rcb" x="449.2" y="690.3"/>
<use href="#rcb" x="449.8" y="690.6"/>
<use href="#rcb" x="450.3" y="692.3"/>
<use href="#rcb" x="450.8" y="693.2"/>
<use href="#rcb" x="451.3" y="693.5"/>
<use href="#rcb" x="451.8" y="694.2"/>
<use href="#rcb" x="452.4" y="694.6"/>
<use href="#rcb" x="452.9" y="696.2"/>
<use href="#rcb" x="453.4" y="697.5"/>
<use href="#rcb" x="453.9" y="697.7"/>
<use href="#rcb" x="454.4" y="698.7"/>
<use href="#rcb" x="455.0" y="699.3"/>
<use href="#rcb" x="455.5" y="699.6"/>
<use href="#rcb" x="456.0" y="701.1"/>
<use href="#rcb" x="456.5" y="701.2"/>
<use href="#rcb" x="457.0" y="702.3"/>
<use href="#rcb" x="457.6" y="703.3"/>
<use href="#rcb" x="458.1" y="704.3"/>
<use href="#rcb" x="458.6" y="705.0"/>
<use href="#rcb" x="459.1" y="705.8"/>
<use href="#rcb" x="459.6" y="706.4"/>
<use href="#rcb" x="460.2" y="707.1"/>
<use href="#rcb" x="460.7" y="708.4"/>
<use href="#rcb" x="461.2" y="709.0"/>
<use href="#rcb" x="461.7" y="709.8"/>
<use href="#rcb" x="462.2" y="710.8"/>
<use href="#rcb" x="462.8" y="712.0"/>
<use href="#rcb" x="463.3" y="712.6"/>
<use href="#rcb" x="463.8" y="713.7"/>
<use href="#rcb" x="464.3" y="714.6"/>
<use href="#rcb" x="464.8" y="716.1"/>
<use href="#rcb" x="465.4" y="717.1"/>
<use href="#rcb" x="465.9" y="718.4"/>
<use href="#rcb" x="466.4" y="718.3"/>
<use href="#rcb" x="466.9" y="719.3"/>
<use href="#rcb" x="467.4" y="720.6"/>
<use href="#rcb" x="468.0" y="721.1"/>
<use href="#rcb" x="468.5" y="721.8"/>
<use href="#rcb" x="469.0" y="723.1"/>
<use href="#rcb" x="469.5" y="723.3"/>
<use href="#rcb" x="470.0" y="723.8"/>
<use href="#rcb" x="470.6" y="724.5"/>
<use href="#rcb" x="471.1" y="725.7"/>
<use href="#rcb" x="471.6" y="726.4"/>
<use href="#rcb" x="472.1" y="726.7"/>
<use href="#rcb" x="472.6" y="727.4"/>
<use href="#rcb" x="473.2" y="728.3"/>
<use href="#rcb" x="473.7" y="728.7"/>
<use href="#rcb" x="474.2" y="728.6"/>
<use href="#rcb" x="474.7" y="729.2"/>
<use href="#rcb" x="475.2" y="729.5"/>
<use href="#rcb" x="475.8" y="729.1"/>
<use href="#rcb" x="476.3" y="729.6"/>
<use href="#rcb" x="476.8" y="730.0"/>
<use href="#rcb" x="477.3" y="729.9"/>
<use href="#rcb" x="477.8" y="729.7"/>
<use href="#rcb" x="478.4" y="730.2"/>
<use href="#rcb" x="478.9" y="730.5"/>
<use href="#rcb" x="479.4" y="730.8"/>
<use href="#rcb" x="479.9" y="730.2"/>
<use href="#rcb" x="480.4" y="731.1"/>
<use href="#rcb" x="481.0" y="730.6"/>
<use href="#rcb" x="481.5" y="731.0"/>
<use href="#rcb" x="482.0" y="731.1"/>
<use href="#rcb" x="482.5" y="731.1"/>
<use href="#rcb" x="483.0" y="731.0"/>
<use href="#rcb" x="483.6" y="730.9"/>
<use href="#rcb" x="484.1" y="731.1"/>
<use href="#rcb" x="484.6" y="730.9"/>
<use href="#rcb" x="485.1" y="730.7"/>
<use href="#rcb" x="485.6" y="731.3"/>
<use href="#rcb" x="486.2" y="731.1"/>
<use href="#rcb" x="486.7" y="731.2"/>
<use href="#rcb" x="487.2" y="730.9"/>
<use href="#rcb" x="487.7" y="731.1"/>
<use href="#rcb" x="488.2" y="731.1"/>
<use href="#rcb" x="488.8" y="731.1"/>
<use href="#rcb" x="489.3" y="731.0"/>
<use href="#rcb" x="489.8" y="730.9"/>
<use href="#rcb" x="490.3" y="731.0"/>
<use href="#rcb" x="490.8" y="730.8"/>
<use href="#rcb" x="491.4" y="730.8"/>
<use href="#rcb" x="491.9" y="731.0"/>
<use href="#rcb" x="492.4" y="730.9"/>
<use href="#rcb" x="492.9" y="731.0"/>
<use href="#rcb" x="493.4" y="731.0"/>
<use href="#rcb" x="494.0" y="731.2"/>
<use href="#rcb" x="494.5" y="731.1"/>
<use href="#rcb" x="495.0" y="731.0"/>
<use href="#rcb" x="495.5" y="731.1"/>
<use href="#rcb" x="496.0" y="730.9"/>
<use href="#rcb" x="496.6" y="731.0"/>
<use href="#rcb" x="497.1" y="731.1"/>
<use href="#rcb" x="497.6" y="730.9"/>
<use href="#rcb" x="498.1" y="731.0"/>
<use href="#rcb" x="498.6" y="730.9"/>
<use href="#rcb" x="499.2" y="731.0"/>
<use href="#rcb" x="499.7" y="731.2"/>
<use href="#rcb" x="500.2" y="730.9"/>
<use href="#rcb" x="500.7" y="731.0"/>
<use href="#rcb" x="501.2" y="730.9"/>
<use href="#rcb" x="501.8" y="730.9"/>
<use href="#rcb" x="502.3" y="730.9"/>
<use href="#rcb" x="502.8" y="731.1"/>
<use href="#rcb" x="503.3" y="731.2"/>
<use href="#rcb" x="503.8" y="731.0"/>
<use href="#rcb" x="504.4" y="730.9"/>
<use href="#rcb" x="504.9" y="731.1"/>
<use href="#rcb" x="505.4" y="731.0"/>
<use href="#rcb" x="505.9" y="731.1"/>
<use href="#rcb" x="506.4" y="731.0"/>
<use href="#rcb" x="507.0" y="731.0"/>
<use href="#rcb" x="507.5" y="731.1"/>
<use href="#rcb" x="508.0" y="730.9"/>
<use href="#rcb" x="508.5" y="731.0"/>
<use href="#rcb" x="509.0" y="730.8"/>
<use href="#rcb" x="509.6" y="730.9"/>
<use href="#rcb" x="510.1" y="730.8"/>
<use href="#rcb" x="510.6" y="731.0"/>
<use href="#rcb" x="511.1" y="730.9"/>
<use href="#rcb" x="511.6" y="731.0"/>
<use href="#rcb" x="512.2" y="731.0"/>
<use href="#rcb" x="512.7" y="730.8"/>
<use href="#rcb" x="513.2" y="730.9"/>
<use href="#rcb" x="513.7" y="730.9"/>
<use href="#rcb" x="514.2" y="731.1"/>
<use href="#rcb" x="514.8" y="731.2"/>
<use href="#rcb" x="515.3" y="731.1"/>
<use href="#rcb" x="515.8" y="731.0"/>
<use href="#rcb" x="516.3" y="731.1"/>
<use href="#rcb" x="516.8" y="730.8"/>
<use href="#rcb" x="517.4" y="731.1"/>
<use href="#rcb" x="517.9" y="730.9"/>
<use href="#rcb" x="518.4" y="730.7"/>
<use href="#rcb" x="518.9" y="731.3"/>
<use href="#rcb" x="519.4" y="731.1"/>
<use href="#rcb" x="520.0" y="730.9"/>
<use href="#rcb" x="520.5" y="731.0"/>
<use href="#rcb" x="521.0" y="731.0"/>
<use href="#rcb" x="521.5" y="731.0"/>
<path d="M75.5,422.3 L76.5,422.3 L77.4,422.3 L78.4,422.3 L79.4,422.3 L80.3,422.3 L81.3,422.3 L82.3,422.3 L83.2,422.3 L84.2,422.3 L85.2,422.3 L86.1,422.3 L87.1,422.3 L88.1,422.3 L89.0,422.3 L90.0,422.3 L91.0,422.3 L91.9,422.3 L92.9,422.3 L93.9,422.3 L94.8,422.3 L95.8,422.3 L96.8,422.3 L97.8,422.3 L98.7,422.3 L99.7,422.3 L100.7,422.3 L101.6,422.3 L102.6,422.3 L103.6,422.3 L104.5,422.3 L105.5,422.3 L106.5,422.3 L107.4,422.3 L108.4,422.3 L109.4,422.3 L110.3,422.3 L111.3,422.3 L112.3,422.3 L113.2,422.3 L114.2,422.3 L115.2,422.3 L116.1,422.3 L117.1,422.3 L118.1,422.3 L119.0,422.3 L120.0,422.3 L121.0,422.3 L121.9,422.3 L122.9,422.3 L123.9,422.4 L124.8,422.4 L125.8,422.4 L126.8,422.4 L127.7,422.4 L128.7,422.4 L129.7,422.4 L130.6,422.5 L131.6,422.5 L132.6,422.5 L133.5,422.5 L134.5,422.6 L135.5,422.6 L136.4,422.6 L137.4,422.6 L138.4,422.7 L139.4,422.7 L140.3,422.7 L141.3,422.7 L142.3,422.8 L143.2,422.8 L144.2,422.8 L145.2,422.9 L146.1,422.9 L147.1,422.9 L148.1,423.0 L149.0,423.0 L150.0,423.1 L151.0,423.2 L151.9,423.3 L152.9,423.4 L153.9,423.5 L154.8,423.6 L155.8,423.7 L156.8,423.8 L157.7,424.0 L158.7,424.1 L159.7,424.3 L160.6,424.5 L161.6,424.6 L162.6,424.8 L163.5,425.0 L164.5,425.2 L165.5,425.4 L166.4,425.6 L167.4,425.8 L168.4,426.0 L169.3,426.3 L170.3,426.5 L171.3,426.8 L172.2,427.0 L173.2,427.3 L174.2,427.5 L175.1,427.8 L176.1,428.1 L177.1,428.3 L178.0,428.6 L179.0,428.9 L180.0,429.2 L181.0,429.5 L181.9,429.8 L182.9,430.1 L183.9,430.4 L184.8,430.7 L185.8,431.0 L186.8,431.4 L187.7,431.8 L188.7,432.3 L189.7,432.8 L190.6,433.3 L191.6,433.8 L192.6,434.4 L193.5,435.0 L194.5,435.6 L195.5,436.2 L196.4,436.9 L197.4,437.5 L198.4,438.2 L199.3,438.9 L200.3,439.6 L201.3,440.2 L202.2,440.9 L203.2,441.6 L204.2,442.3 L205.1,442.9 L206.1,443.6 L207.1,444.3 L208.0,444.9 L209.0,445.6 L210.0,446.3 L210.9,447.0 L211.9,447.8 L212.9,448.5 L213.8,449.3 L214.8,450.0 L215.8,450.8 L216.7,451.6 L217.7,452.5 L218.7,453.3 L219.6,454.2 L220.6,455.1 L221.6,456.0 L222.6,457.0 L223.5,458.0 L224.5,459.1 L225.5,460.4 L226.4,461.7 L227.4,463.0 L228.4,464.3 L229.3,465.5 L230.3,466.6 L231.3,467.6 L232.2,468.5 L233.2,469.5 L234.2,470.5 L235.1,471.6 L236.1,472.7 L237.1,473.9 L238.0,475.0 L239.0,476.2 L240.0,477.4 L240.9,478.7 L241.9,479.9 L242.9,481.2 L243.8,482.4 L244.8,483.7 L245.8,485.0 L246.7,486.4 L247.7,487.7 L248.7,489.0 L249.6,490.4 L250.6,491.7 L251.6,493.1 L252.5,494.5 L253.5,495.8 L254.5,497.2 L255.4,498.6 L256.4,500.0 L257.4,501.4 L258.3,502.8 L259.3,504.3 L260.3,505.7 L261.2,507.2 L262.2,508.7 L263.2,510.2 L264.2,511.7 L265.1,513.3 L266.1,514.8 L267.1,516.3 L268.0,517.9 L269.0,518.6 L270.1,519.4 L271.1,520.1 L272.1,520.9 L273.2,521.6 L274.2,522.3 L275.2,523.1 L276.2,523.8 L277.3,524.5 L278.3,525.3 L279.3,526.0 L280.4,526.7 L281.4,527.5 L282.4,528.2 L283.4,528.9 L284.5,529.7 L285.5,530.4 L286.5,531.1 L287.6,531.8 L288.6,532.6 L289.6,533.3 L290.6,534.0 L291.7,534.7 L292.7,535.5 L293.7,536.2 L294.8,536.9 L295.8,537.6 L296.8,538.3 L297.8,539.0 L298.9,539.7 L299.9,540.4 L300.9,541.1 L301.9,541.8 L303.0,542.5 L304.0,543.2 L305.0,543.9 L306.1,544.6 L307.1,545.3 L308.1,546.0 L309.1,546.7 L310.2,547.4 L311.2,548.2 L312.2,548.9 L313.3,549.6 L314.3,550.3 L315.3,551.0 L316.3,551.8 L317.4,552.5 L318.4,553.2 L319.4,554.0 L320.5,554.7 L321.5,555.5 L322.5,556.2 L323.5,557.0 L324.6,557.8 L325.6,558.6 L326.6,559.4 L327.7,560.2 L328.7,561.0 L329.7,561.8 L330.7,562.6 L331.8,563.4 L332.8,564.2 L333.8,565.0 L334.8,565.8 L335.9,566.7 L336.9,567.5 L337.9,568.3 L339.0,569.1 L340.0,570.0 L341.0,570.8 L342.0,571.6 L343.1,572.5 L344.1,573.3 L345.1,574.1 L346.2,575.0 L347.2,575.8 L348.2,576.6 L349.2,577.5 L350.3,578.3 L351.3,579.1 L352.3,579.9 L353.4,580.7 L354.4,581.5 L355.4,582.3 L356.4,583.1 L357.5,584.0 L358.5,584.8 L359.5,585.6 L360.6,586.5 L361.6,587.3 L362.6,588.2 L363.6,589.0 L364.7,589.9 L365.7,590.7 L366.7,591.6 L367.7,592.5 L368.8,593.4 L369.8,594.3 L370.8,595.2 L371.9,596.0 L372.9,596.9 L373.9,597.8 L374.9,598.7 L376.0,599.6 L377.0,600.5 L378.0,601.4 L379.1,602.2 L380.1,603.1 L381.1,604.0 L382.1,604.9 L383.2,605.8 L384.2,606.7 L385.2,607.6 L386.3,608.6 L387.3,609.5 L388.3,610.5 L389.3,611.5 L390.4,612.5 L391.4,613.5 L392.4,614.6 L393.5,615.6 L394.5,616.7 L395.5,617.8 L396.5,619.0 L397.6,620.1 L398.6,621.3 L399.6,622.4 L400.7,623.6 L401.7,624.8 L402.7,626.0 L403.7,627.3 L404.8,628.5 L405.8,629.7 L406.8,631.0 L407.8,632.2 L408.9,633.5 L409.9,634.7 L410.9,636.0 L412.0,637.3 L413.0,638.6 L414.0,639.8 L415.0,641.1 L416.1,642.4 L417.1,643.7 L418.1,644.9 L419.2,646.2 L420.2,647.5 L421.2,648.7 L422.2,650.0 L423.3,651.3 L424.3,652.5 L425.3,653.8 L426.4,655.1 L427.4,656.4 L428.4,657.7 L429.4,659.0 L430.5,660.4 L431.5,661.7 L432.5,663.0 L433.6,664.4 L434.6,665.7 L435.6,667.1 L436.6,668.4 L437.7,669.8 L438.7,671.1 L439.7,672.5 L440.7,673.9 L441.8,675.3 L442.8,676.7 L443.8,678.2 L444.9,679.6 L445.9,681.2 L446.9,682.7 L447.9,684.4 L449.0,686.1 L450.0,687.9 L451.0,689.6 L452.1,691.3 L453.1,692.9 L454.1,694.5 L455.1,696.1 L456.2,697.7 L457.2,699.2 L458.2,700.8 L459.3,702.4 L460.3,704.1 L461.3,705.7 L462.3,707.4 L463.4,709.2 L464.4,710.9 L465.4,712.8 L466.5,714.6 L467.5,716.6 L468.5,718.6 L469.5,721.0 L470.6,723.5 L471.6,725.9 L472.6,727.8" fill="none" stroke="#000" stroke-width="6.1" stroke-linecap="round" stroke-linejoin="round"/>
</g>
<path d="M135.8,243.3 L144.9,252.4 L135.8,261.5 L126.7,252.4Z" fill="#0000ff"/>
<path d="M113.5,276.9 H157.9" stroke="#00ff00" stroke-width="6.3" stroke-linecap="round" fill="none"/>
<circle cx="135.6" cy="301.6" r="7.0" fill="url(#rg)"/>
<path d="M113.4,332.2 H127 M139.5,332.2 h0.01" stroke="#8000ff" stroke-width="6.3" stroke-linecap="round" fill="none"/>
<circle cx="113.5" cy="357.1" r="3.25" fill="#008000"/>
<circle cx="124.2" cy="357.1" r="3.25" fill="#008000"/>
<circle cx="134.9" cy="357.1" r="3.25" fill="#008000"/>
<circle cx="145.6" cy="357.1" r="3.25" fill="#008000"/>
<circle cx="156.3" cy="357.1" r="3.25" fill="#008000"/>
<circle cx="119.85" cy="629.5" r="7.9" fill="url(#rg)"/>
<path d="M97.2,661.3 H142.5" stroke="#000" stroke-width="6.3" stroke-linecap="round" fill="none"/>
<g opacity="0.999">
<g font-family="Liberation Sans, sans-serif" font-size="18.4" text-anchor="end" fill="#000">
<text x="67.8" y="396.2">0.0</text>
<text x="69.7" y="736.3">0.0</text>
<text x="67.8" y="326.6">0.2</text>
<text x="69.7" y="674.5">0.2</text>
<text x="67.8" y="257.0">0.4</text>
<text x="69.7" y="612.7">0.4</text>
<text x="67.8" y="187.4">0.6</text>
<text x="69.7" y="550.9">0.6</text>
<text x="67.8" y="117.8">0.8</text>
<text x="69.7" y="489.1">0.8</text>
<text x="67.8" y="48.2">1.0</text>
<text x="69.7" y="427.3">1.0</text>
</g>
<g font-family="Liberation Sans, sans-serif" font-size="18.4" text-anchor="middle" fill="#000">
<text x="75.2" y="752.4">0.0</text>
<text x="155.2" y="752.4">0.2</text>
<text x="235.2" y="752.4">0.4</text>
<text x="315.2" y="752.4">0.6</text>
<text x="395.2" y="752.4">0.8</text>
<text x="475.2" y="752.4">1.0</text>
</g>
<g font-family="Liberation Sans, sans-serif" font-size="22.3" fill="#000"><text x="445.6" y="67.3">(a)</text><text x="444.4" y="455.2">(b)</text></g>
<g font-family="Liberation Serif, serif" font-size="31.14" fill="#000">
<text transform="translate(26,335.9) rotate(-90)">Superfluid density</text>
<text transform="translate(28,696.6) rotate(-90)">Superfluid density</text>
<text x="259.7" y="781" font-size="25.4">T/T<tspan font-size="15.5" dy="10.1">c</tspan></text>
</g>
<g font-family="Liberation Serif, serif" font-size="18" fill="#000">
<text transform="translate(173.5,258.7) scale(1.058,1)">In</text>
<text transform="translate(173.5,282.8) scale(1.058,1)">Nonlocal BCS</text>
<text transform="translate(173.5,307.7) scale(1.058,1)">La<tspan font-size="11.5" dy="7.7">3</tspan><tspan dy="-7.7">Pd</tspan><tspan font-size="11.5" dy="7.7">4</tspan><tspan dy="-7.7">Si</tspan><tspan font-size="11.5" dy="7.7">4</tspan></text>
<text transform="translate(173.5,339.2) scale(1.058,1)">Local BCS</text>
<text transform="translate(173.5,364.7) scale(1.058,1)">Two-gap model</text>
</g>
<g font-family="Liberation Serif, serif" font-size="19" fill="#000">
<text transform="translate(158.4,636) scale(1.06,1)">La<tspan font-size="11.5" dy="8.0">3</tspan><tspan dy="-8.0">Pd</tspan><tspan font-size="11.5" dy="8.0">4</tspan><tspan dy="-8.0">Si</tspan><tspan font-size="11.5" dy="8.0">4</tspan></text>
<text transform="translate(159.2,668.1) scale(1.06,1)">Two <tspan font-style="italic">s</tspan>-wave superconducting</text>
<text transform="translate(162.3,692.9) scale(1.06,1)">phases (La<tspan font-size="11.5" dy="8.0">3</tspan><tspan dy="-8.0">Pd</tspan><tspan font-size="11.5" dy="8.0">4</tspan><tspan dy="-8.0">Si</tspan><tspan font-size="11.5" dy="8.0">4</tspan><tspan dy="-8.0"> + impurity)</tspan></text>
</g>
</g>
</svg>
</body></html>
